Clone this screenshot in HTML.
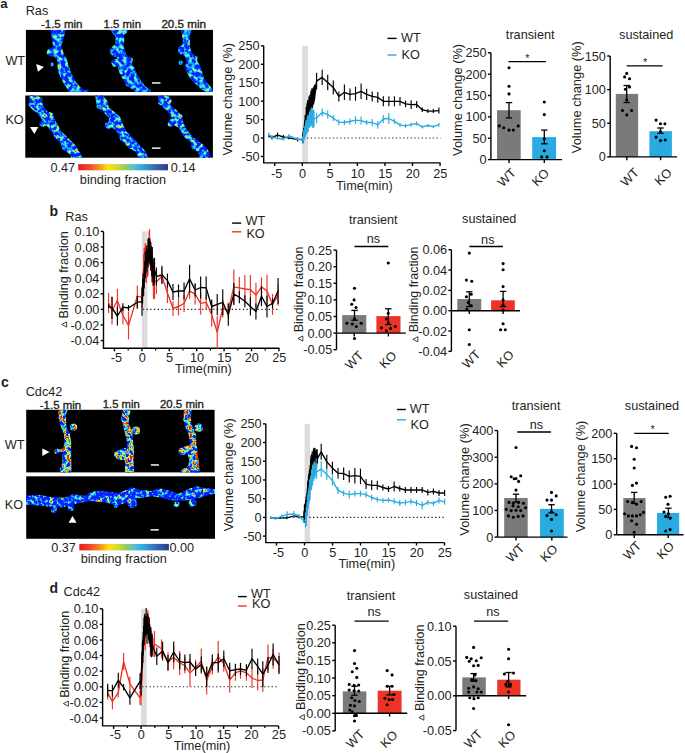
<!DOCTYPE html><html><head><meta charset="utf-8"><style>html,body{margin:0;padding:0;background:#fff;width:685px;height:753px;overflow:hidden}svg{display:block}text{font-family:"Liberation Sans",sans-serif}</style></head><body><svg width="685" height="753" viewBox="0 0 685 753" font-family="Liberation Sans, sans-serif" fill="#231f20">
<defs><filter id="soft" x="-5%" y="-5%" width="110%" height="110%"><feGaussianBlur stdDeviation="0.7"/></filter><linearGradient id="jet" x1="0" x2="1" y1="0" y2="0"><stop offset="0" stop-color="#ec1c24"/><stop offset="0.12" stop-color="#f0452a"/><stop offset="0.24" stop-color="#f7941d"/><stop offset="0.33" stop-color="#fde312"/><stop offset="0.43" stop-color="#cfdc2a"/><stop offset="0.52" stop-color="#96cb5a"/><stop offset="0.61" stop-color="#5cc3c8"/><stop offset="0.70" stop-color="#2eaee3"/><stop offset="0.82" stop-color="#3a78bd"/><stop offset="1" stop-color="#2b3990"/></linearGradient><filter id="nras" filterUnits="objectBoundingBox" x="0" y="0" width="1" height="1" color-interpolation-filters="sRGB"><feTurbulence type="fractalNoise" baseFrequency="0.26" numOctaves="2" seed="3"/><feColorMatrix type="matrix" values="1 0 0 0 0  1 0 0 0 0  1 0 0 0 0  0 0 0 0 1"/><feComponentTransfer><feFuncR type="table" tableValues="0.04 0.04 0.04 0.04 0.04 0.04 0.04 0.04 0.04 0.04 0.04 0.04 0.04 0.04 0.04 0.04 0.04 0.04 0.04 0.04 0.04 0.05 0.07 0.08 0.10 0.18 0.27 0.35 0.43 0.54 0.71 0.89 1.00 1.00 1.00 1.00 1.00 1.00 1.00 1.00 1.00"/><feFuncG type="table" tableValues="0.12 0.12 0.12 0.12 0.12 0.12 0.12 0.12 0.12 0.12 0.12 0.12 0.12 0.12 0.12 0.12 0.12 0.12 0.23 0.36 0.50 0.60 0.69 0.77 0.86 0.89 0.92 0.95 0.98 0.99 0.97 0.95 0.88 0.74 0.60 0.55 0.55 0.55 0.55 0.55 0.55"/><feFuncB type="table" tableValues="1.00 1.00 1.00 1.00 1.00 1.00 1.00 1.00 1.00 1.00 1.00 1.00 1.00 1.00 1.00 1.00 1.00 1.00 1.00 1.00 1.00 1.00 1.00 1.00 1.00 0.92 0.83 0.75 0.67 0.56 0.39 0.21 0.09 0.08 0.06 0.05 0.05 0.05 0.05 0.05 0.05"/></feComponentTransfer></filter><filter id="nrasko" filterUnits="objectBoundingBox" x="0" y="0" width="1" height="1" color-interpolation-filters="sRGB"><feTurbulence type="fractalNoise" baseFrequency="0.28" numOctaves="2" seed="5"/><feColorMatrix type="matrix" values="1 0 0 0 0  1 0 0 0 0  1 0 0 0 0  0 0 0 0 1"/><feComponentTransfer><feFuncR type="table" tableValues="0.04 0.04 0.04 0.04 0.04 0.04 0.04 0.04 0.04 0.04 0.04 0.04 0.04 0.04 0.04 0.04 0.04 0.04 0.04 0.04 0.04 0.05 0.07 0.08 0.10 0.23 0.35 0.47 0.67 0.87 1.00 1.00 0.99 0.96 0.93 0.93 0.93 0.93 0.93 0.93 0.93"/><feFuncG type="table" tableValues="0.12 0.12 0.12 0.12 0.12 0.12 0.12 0.12 0.12 0.12 0.12 0.12 0.12 0.12 0.12 0.12 0.12 0.12 0.18 0.33 0.49 0.60 0.69 0.77 0.86 0.90 0.95 0.99 0.98 0.95 0.85 0.66 0.48 0.31 0.13 0.13 0.13 0.13 0.13 0.13 0.13"/><feFuncB type="table" tableValues="1.00 1.00 1.00 1.00 1.00 1.00 1.00 1.00 1.00 1.00 1.00 1.00 1.00 1.00 1.00 1.00 1.00 1.00 1.00 1.00 1.00 1.00 1.00 1.00 1.00 0.88 0.75 0.62 0.43 0.23 0.09 0.07 0.05 0.05 0.05 0.05 0.05 0.05 0.05 0.05 0.05"/></feComponentTransfer></filter><filter id="ncdc" filterUnits="objectBoundingBox" x="0" y="0" width="1" height="1" color-interpolation-filters="sRGB"><feTurbulence type="fractalNoise" baseFrequency="0.27" numOctaves="2" seed="7"/><feColorMatrix type="matrix" values="1 0 0 0 0  1 0 0 0 0  1 0 0 0 0  0 0 0 0 1"/><feComponentTransfer><feFuncR type="table" tableValues="0.04 0.04 0.04 0.04 0.04 0.04 0.04 0.04 0.04 0.04 0.04 0.04 0.04 0.04 0.04 0.04 0.04 0.04 0.04 0.08 0.20 0.45 0.75 1.00 1.00 0.99 0.96 0.93 0.93 0.93 0.93 0.93 0.93 0.93 0.93 0.93 0.93 0.93 0.93 0.93 0.93"/><feFuncG type="table" tableValues="0.12 0.12 0.12 0.12 0.12 0.12 0.12 0.12 0.12 0.12 0.12 0.12 0.12 0.12 0.12 0.12 0.19 0.37 0.55 0.74 0.90 0.98 0.96 0.89 0.70 0.51 0.30 0.13 0.13 0.13 0.13 0.13 0.13 0.13 0.13 0.13 0.13 0.13 0.13 0.13 0.13"/><feFuncB type="table" tableValues="1.00 1.00 1.00 1.00 1.00 1.00 1.00 1.00 1.00 1.00 1.00 1.00 1.00 1.00 1.00 1.00 1.00 1.00 1.00 1.00 0.90 0.65 0.35 0.10 0.07 0.05 0.05 0.05 0.05 0.05 0.05 0.05 0.05 0.05 0.05 0.05 0.05 0.05 0.05 0.05 0.05"/></feComponentTransfer></filter><filter id="ncdcko" filterUnits="objectBoundingBox" x="0" y="0" width="1" height="1" color-interpolation-filters="sRGB"><feTurbulence type="fractalNoise" baseFrequency="0.28" numOctaves="2" seed="9"/><feColorMatrix type="matrix" values="1 0 0 0 0  1 0 0 0 0  1 0 0 0 0  0 0 0 0 1"/><feComponentTransfer><feFuncR type="table" tableValues="0.04 0.04 0.04 0.04 0.04 0.04 0.04 0.04 0.04 0.04 0.04 0.04 0.04 0.04 0.04 0.04 0.04 0.04 0.04 0.04 0.04 0.04 0.04 0.06 0.08 0.13 0.30 0.47 0.70 0.95 1.00 0.99 0.95 0.93 0.93 0.93 0.93 0.93 0.93 0.93 0.93"/><feFuncG type="table" tableValues="0.12 0.12 0.12 0.12 0.12 0.12 0.12 0.12 0.12 0.12 0.12 0.12 0.12 0.12 0.12 0.12 0.12 0.12 0.12 0.12 0.24 0.40 0.55 0.66 0.77 0.87 0.93 0.99 0.97 0.94 0.74 0.50 0.23 0.13 0.13 0.13 0.13 0.13 0.13 0.13 0.13"/><feFuncB type="table" tableValues="1.00 1.00 1.00 1.00 1.00 1.00 1.00 1.00 1.00 1.00 1.00 1.00 1.00 1.00 1.00 1.00 1.00 1.00 1.00 1.00 1.00 1.00 1.00 1.00 1.00 0.97 0.80 0.63 0.40 0.15 0.08 0.05 0.05 0.05 0.05 0.05 0.05 0.05 0.05 0.05 0.05"/></feComponentTransfer></filter></defs>
<rect x="0" y="0" width="685" height="753" fill="#ffffff"/>
<text x="0.3" y="8.2" font-size="13.2" font-weight="bold">a</text>
<text x="49.5" y="215.7" font-size="14" font-weight="bold">b</text>
<text x="1" y="386.7" font-size="14" font-weight="bold">c</text>
<text x="49.5" y="592.8" font-size="14" font-weight="bold">d</text>
<text x="25.7" y="14.6" font-size="12.7">Ras</text>
<text x="40.9" y="28.2" font-size="11" textLength="41.6" lengthAdjust="spacingAndGlyphs" stroke="#231f20" stroke-width="0.35">-1.5 min</text>
<text x="103.6" y="28.2" font-size="11" textLength="37.4" lengthAdjust="spacingAndGlyphs" stroke="#231f20" stroke-width="0.35">1.5 min</text>
<text x="161.4" y="28.2" font-size="11" textLength="44.6" lengthAdjust="spacingAndGlyphs" stroke="#231f20" stroke-width="0.35">20.5 min</text>
<text x="5.4" y="64.5" font-size="12.7">WT</text>
<text x="5.4" y="124.3" font-size="12.7">KO</text>
<rect x="25.9" y="29.9" width="187.1" height="62.1" fill="#000"/>
<rect x="25.3" y="95.5" width="187.6" height="62.2" fill="#000"/>
<clipPath id="cl1"><polygon points="50.6,29.9 52.5,42.2 53,47 47.5,49.8 46.5,53.6 49,56 54,56.5 57,59.3 57.5,66 58,71.6 61,78.3 64,84 68,89.7 68.5,92 88,92 84,89.7 80,86.8 76,82 73,76.4 70,69.7 68,64 67,59.3 64,54.6 62.5,49.8 61.5,46 63,40.3 65.8,29.9"/><circle cx="51.8" cy="64.5" r="2"/></clipPath>
<g filter="url(#soft)"><g clip-path="url(#cl1)">
<rect x="44" y="29.9" width="46" height="62.1" fill="#000" filter="url(#nras)"/>
</g></g>
<clipPath id="cl2"><polygon points="110.1,29.9 115.4,36.5 115.4,44.1 110.6,47.9 110.1,52.7 112.5,56.2 115.5,57.2 118.6,58.2 114.5,59.6 111.8,60.6 111.1,63.1 113.5,66.9 117.7,66 119.2,72.6 123,79.2 126.7,85.9 134.3,90.6 135,92 150.5,92 149.5,89.7 145.7,86.8 141.9,82.1 137.7,75.4 135.3,69.7 132,64 132.9,58.4 126.7,55.5 123.9,47 124.4,35.6 128.6,29.9"/></clipPath>
<g filter="url(#soft)"><g clip-path="url(#cl2)">
<rect x="108" y="29.9" width="43" height="62.1" fill="#000" filter="url(#nras)"/>
</g></g>
<clipPath id="cl3"><polygon points="181.2,29.9 182.7,39.6 182.2,44.9 178.8,46.8 177.4,50.6 179.3,54 184.6,55.5 186.5,60.8 185.1,66.5 186.1,71.4 189.4,77.1 194.2,82.9 202,89.7 205.8,92 213,92 212.5,88.7 208.7,84.8 203.9,78.1 202,71.4 200,65.6 197.1,60.8 197.6,56.9 192.3,54 189.9,47.3 189.9,37.6 191.4,29.9"/><circle cx="180.8" cy="62.7" r="2.2"/></clipPath>
<g filter="url(#soft)"><g clip-path="url(#cl3)">
<rect x="176" y="29.9" width="37" height="62.1" fill="#000" filter="url(#nras)"/>
</g></g>
<rect x="86" y="89.5" width="2.5" height="2.5" fill="#0a2cff"/>
<rect x="148.5" y="89.5" width="2.5" height="2.5" fill="#0a2cff"/>
<polygon points="36.2,64.1 37.9,71.8 43.9,67.1" fill="#ffffff"/>
<rect x="152" y="82.1" width="8.5" height="1.7" fill="#d8d8d8"/>
<clipPath id="cl4"><polygon points="29.8,95.5 28.6,105.5 31.7,108.9 37.5,113.2 42.3,120 39.9,121.9 39.4,125.8 43.3,126.7 46.6,125.8 52.9,133.5 54.8,138.3 60.6,143.1 62.5,149.8 69.3,153.7 71.2,157.7 82.8,157.7 79.9,151.8 75.1,145 67.4,137.3 61.6,131.5 57.7,124.8 53.9,118 52.9,113.2 47.1,111.3 42.8,104.6 42.3,98.8 37.5,95.5"/></clipPath>
<g filter="url(#soft)"><g clip-path="url(#cl4)">
<rect x="28" y="95.5" width="56" height="62.2" fill="#000" filter="url(#nrasko)"/>
</g></g>
<clipPath id="cl5"><polygon points="95.2,95.5 96.1,102.6 96.6,107.5 102.4,111.3 108.2,117.1 109.1,120.9 105.3,122.9 104.8,126.7 107.7,129.4 111.5,127.7 114.9,129.6 118.8,134.4 120.2,140.2 124.5,143.1 128.4,147.9 136.1,151.8 138,157.7 147.7,157.7 145.7,151.8 140.9,146 133.2,138.3 126.5,131.5 122.6,123.8 120.2,117.1 114.9,112.3 108.6,107.5 108.2,101.7 102.9,95.5"/></clipPath>
<g filter="url(#soft)"><g clip-path="url(#cl5)">
<rect x="94" y="95.5" width="55" height="62.2" fill="#000" filter="url(#nrasko)"/>
</g></g>
<clipPath id="cl6"><polygon points="158.6,95.5 158.1,103.6 162.5,107 167.3,111.3 172.1,118 168.7,120.9 167.3,124.8 170.2,127.2 174,125.3 178.8,127.7 182.7,135.4 186.5,139.2 190.4,141.2 191.4,147.9 196.2,150.8 199.1,154.7 199.1,157.7 210.6,157.7 209.7,152.7 205.8,147 200,142.1 192.3,136.4 186.5,129.6 183.2,121.9 182.2,115.2 177.9,111.3 171.1,105.5 171.6,99.7 167.7,95.5"/></clipPath>
<g filter="url(#soft)"><g clip-path="url(#cl6)">
<rect x="157" y="95.5" width="55" height="62.2" fill="#000" filter="url(#nrasko)"/>
</g></g>
<polygon points="30,126.9 38.3,126.9 34.3,134.1" fill="#ffffff"/>
<rect x="152" y="147.3" width="8.5" height="1.7" fill="#d8d8d8"/>
<rect x="78.2" y="164.1" width="89.8" height="6.2" fill="url(#jet)"/>
<text x="50.4" y="171.9" font-size="12.7">0.47</text>
<text x="170.8" y="171.9" font-size="12.7">0.14</text>
<text x="79.8" y="183.7" font-size="12.7" textLength="86.4" lengthAdjust="spacingAndGlyphs">binding fraction</text>
<rect x="302.3" y="45.85" width="5.6" height="117.05" fill="#dcdcdc"/>
<line x1="303.3" y1="138" x2="440.6" y2="138" stroke="#222" stroke-width="1.1" stroke-dasharray="1.3,2.4"/>
<path d="M263.7 45.85V162.9H440.6" fill="none" stroke="#000" stroke-width="1.4"/>
<line x1="260.9" y1="45.85" x2="263.7" y2="45.85" stroke="#000" stroke-width="1.4"/>
<text x="259.5" y="50.35" font-size="12.7" text-anchor="end">250</text>
<line x1="260.9" y1="64.28" x2="263.7" y2="64.28" stroke="#000" stroke-width="1.4"/>
<text x="259.5" y="68.78" font-size="12.7" text-anchor="end">200</text>
<line x1="260.9" y1="82.71" x2="263.7" y2="82.71" stroke="#000" stroke-width="1.4"/>
<text x="259.5" y="87.21" font-size="12.7" text-anchor="end">150</text>
<line x1="260.9" y1="101.14" x2="263.7" y2="101.14" stroke="#000" stroke-width="1.4"/>
<text x="259.5" y="105.64" font-size="12.7" text-anchor="end">100</text>
<line x1="260.9" y1="119.57" x2="263.7" y2="119.57" stroke="#000" stroke-width="1.4"/>
<text x="259.5" y="124.07" font-size="12.7" text-anchor="end">50</text>
<line x1="260.9" y1="138" x2="263.7" y2="138" stroke="#000" stroke-width="1.4"/>
<text x="259.5" y="142.5" font-size="12.7" text-anchor="end">0</text>
<line x1="260.9" y1="156.43" x2="263.7" y2="156.43" stroke="#000" stroke-width="1.4"/>
<text x="259.5" y="160.93" font-size="12.7" text-anchor="end">-50</text>
<line x1="274.75" y1="162.9" x2="274.75" y2="165.9" stroke="#000" stroke-width="1.4"/>
<text x="276.65" y="177.5" font-size="12.7" text-anchor="middle">-5</text>
<line x1="302.3" y1="162.9" x2="302.3" y2="165.9" stroke="#000" stroke-width="1.4"/>
<text x="302.6" y="177.5" font-size="12.7" text-anchor="middle">0</text>
<line x1="329.85" y1="162.9" x2="329.85" y2="165.9" stroke="#000" stroke-width="1.4"/>
<text x="330.15" y="177.5" font-size="12.7" text-anchor="middle">5</text>
<line x1="357.4" y1="162.9" x2="357.4" y2="165.9" stroke="#000" stroke-width="1.4"/>
<text x="357.7" y="177.5" font-size="12.7" text-anchor="middle">10</text>
<line x1="384.95" y1="162.9" x2="384.95" y2="165.9" stroke="#000" stroke-width="1.4"/>
<text x="385.25" y="177.5" font-size="12.7" text-anchor="middle">15</text>
<line x1="412.5" y1="162.9" x2="412.5" y2="165.9" stroke="#000" stroke-width="1.4"/>
<text x="412.8" y="177.5" font-size="12.7" text-anchor="middle">20</text>
<line x1="440.05" y1="162.9" x2="440.05" y2="165.9" stroke="#000" stroke-width="1.4"/>
<text x="440.35" y="177.5" font-size="12.7" text-anchor="middle">25</text>
<text x="364.4" y="190" font-size="12.7" text-anchor="middle">Time(min)</text>
<text x="232.1" y="99.3" font-size="12.7" text-anchor="middle" transform="rotate(-90 232.1 99.3)" textLength="112.5" lengthAdjust="spacingAndGlyphs">Volume change (%)</text>
<polyline points="268.8,136 272,137.4 277.5,135.2 283.4,137 288.8,137.8 297.6,139.6 302.6,139.12 302.88,137.99 303.15,136.31 303.43,133.06 303.71,133.7 303.98,132.06 304.26,129.5 304.54,128.16 304.81,125.36 305.09,124.48 305.37,124.12 305.64,122.68 305.92,120.73 306.2,117.83 306.47,116.94 306.75,117.41 307.03,114.37 307.3,113.58 307.58,111.4 307.86,111.18 308.13,110.48 308.41,108.24 308.69,106.75 308.96,106.16 309.24,104.47 309.51,104.31 309.79,104.49 310.07,102.42 310.34,102.8 310.62,102.9 310.9,101.8 311.17,99.49 311.45,99.78 311.73,98.37 312,98.23 312.28,97.71 312.56,98.92 312.83,96.96 313.11,96.84 313.39,95.28 313.66,96.39 313.94,94.01 314.22,93.15 314.49,93.29 314.77,91.54 315.05,90.92 315.32,89.27 315.6,87.99 316.6,81.1 322.16,77.4 327.72,82.5 333.28,87.4 338.84,96.4 344.4,92.3 349.96,94.4 355.52,93.7 361.08,91.3 366.64,94.4 372.2,96.4 377.76,97.4 383.32,101.3 388.88,101.3 394.44,101.3 400,101.3 405.56,103.9 411.12,104.7 416.68,104.5 422.24,109.7 427.8,111.1 433.36,111.1 438.92,110.6" fill="none" stroke="#000" stroke-width="1.35" stroke-linejoin="round"/>
<line x1="268.8" y1="134.5" x2="268.8" y2="137.5" stroke="#000" stroke-width="1.15"/>
<line x1="272" y1="135.4" x2="272" y2="139.4" stroke="#000" stroke-width="1.15"/>
<line x1="277.5" y1="132.7" x2="277.5" y2="137.7" stroke="#000" stroke-width="1.15"/>
<line x1="283.4" y1="135" x2="283.4" y2="139" stroke="#000" stroke-width="1.15"/>
<line x1="288.8" y1="136.3" x2="288.8" y2="139.3" stroke="#000" stroke-width="1.15"/>
<line x1="297.6" y1="137.6" x2="297.6" y2="141.6" stroke="#000" stroke-width="1.15"/>
<line x1="302.6" y1="135.54" x2="302.6" y2="142.7" stroke="#000" stroke-width="1.15"/>
<line x1="302.88" y1="133.26" x2="302.88" y2="142.71" stroke="#000" stroke-width="1.15"/>
<line x1="303.15" y1="130.94" x2="303.15" y2="141.67" stroke="#000" stroke-width="1.15"/>
<line x1="303.43" y1="128.56" x2="303.43" y2="137.56" stroke="#000" stroke-width="1.15"/>
<line x1="303.71" y1="128" x2="303.71" y2="139.41" stroke="#000" stroke-width="1.15"/>
<line x1="303.98" y1="128" x2="303.98" y2="136.11" stroke="#000" stroke-width="1.15"/>
<line x1="304.26" y1="124.56" x2="304.26" y2="134.43" stroke="#000" stroke-width="1.15"/>
<line x1="304.54" y1="121.34" x2="304.54" y2="134.97" stroke="#000" stroke-width="1.15"/>
<line x1="304.81" y1="119.93" x2="304.81" y2="130.79" stroke="#000" stroke-width="1.15"/>
<line x1="305.09" y1="115" x2="305.09" y2="133.96" stroke="#000" stroke-width="1.15"/>
<line x1="305.37" y1="118.4" x2="305.37" y2="129.85" stroke="#000" stroke-width="1.15"/>
<line x1="305.64" y1="116.78" x2="305.64" y2="128.58" stroke="#000" stroke-width="1.15"/>
<line x1="305.92" y1="114.61" x2="305.92" y2="126.84" stroke="#000" stroke-width="1.15"/>
<line x1="306.2" y1="106.98" x2="306.2" y2="128.68" stroke="#000" stroke-width="1.15"/>
<line x1="306.47" y1="110.24" x2="306.47" y2="123.64" stroke="#000" stroke-width="1.15"/>
<line x1="306.75" y1="106.67" x2="306.75" y2="128.16" stroke="#000" stroke-width="1.15"/>
<line x1="307.03" y1="103.13" x2="307.03" y2="125.61" stroke="#000" stroke-width="1.15"/>
<line x1="307.3" y1="104.15" x2="307.3" y2="123.02" stroke="#000" stroke-width="1.15"/>
<line x1="307.58" y1="100.4" x2="307.58" y2="122.39" stroke="#000" stroke-width="1.15"/>
<line x1="307.86" y1="100.09" x2="307.86" y2="122.28" stroke="#000" stroke-width="1.15"/>
<line x1="308.13" y1="103.49" x2="308.13" y2="117.48" stroke="#000" stroke-width="1.15"/>
<line x1="308.41" y1="102.08" x2="308.41" y2="114.4" stroke="#000" stroke-width="1.15"/>
<line x1="308.69" y1="101.23" x2="308.69" y2="112.27" stroke="#000" stroke-width="1.15"/>
<line x1="308.96" y1="97.46" x2="308.96" y2="114.85" stroke="#000" stroke-width="1.15"/>
<line x1="309.24" y1="95.38" x2="309.24" y2="113.57" stroke="#000" stroke-width="1.15"/>
<line x1="309.51" y1="97.43" x2="309.51" y2="111.18" stroke="#000" stroke-width="1.15"/>
<line x1="309.79" y1="96.66" x2="309.79" y2="112.33" stroke="#000" stroke-width="1.15"/>
<line x1="310.07" y1="94.63" x2="310.07" y2="110.22" stroke="#000" stroke-width="1.15"/>
<line x1="310.34" y1="97.51" x2="310.34" y2="108.1" stroke="#000" stroke-width="1.15"/>
<line x1="310.62" y1="97.83" x2="310.62" y2="107.97" stroke="#000" stroke-width="1.15"/>
<line x1="310.9" y1="92.05" x2="310.9" y2="111.55" stroke="#000" stroke-width="1.15"/>
<line x1="311.17" y1="90.12" x2="311.17" y2="108.86" stroke="#000" stroke-width="1.15"/>
<line x1="311.45" y1="91.65" x2="311.45" y2="107.91" stroke="#000" stroke-width="1.15"/>
<line x1="311.73" y1="93.28" x2="311.73" y2="103.46" stroke="#000" stroke-width="1.15"/>
<line x1="312" y1="88.08" x2="312" y2="108.37" stroke="#000" stroke-width="1.15"/>
<line x1="312.28" y1="88.94" x2="312.28" y2="106.48" stroke="#000" stroke-width="1.15"/>
<line x1="312.56" y1="89.43" x2="312.56" y2="108.41" stroke="#000" stroke-width="1.15"/>
<line x1="312.83" y1="90.76" x2="312.83" y2="103.16" stroke="#000" stroke-width="1.15"/>
<line x1="313.11" y1="88.75" x2="313.11" y2="104.92" stroke="#000" stroke-width="1.15"/>
<line x1="313.39" y1="87.59" x2="313.39" y2="102.98" stroke="#000" stroke-width="1.15"/>
<line x1="313.66" y1="88.44" x2="313.66" y2="104.33" stroke="#000" stroke-width="1.15"/>
<line x1="313.94" y1="85.95" x2="313.94" y2="102.06" stroke="#000" stroke-width="1.15"/>
<line x1="314.22" y1="87.99" x2="314.22" y2="98.31" stroke="#000" stroke-width="1.15"/>
<line x1="314.49" y1="85.93" x2="314.49" y2="100.65" stroke="#000" stroke-width="1.15"/>
<line x1="314.77" y1="84.44" x2="314.77" y2="98.63" stroke="#000" stroke-width="1.15"/>
<line x1="315.05" y1="86.45" x2="315.05" y2="95.39" stroke="#000" stroke-width="1.15"/>
<line x1="315.32" y1="85.48" x2="315.32" y2="93.05" stroke="#000" stroke-width="1.15"/>
<line x1="315.6" y1="84.47" x2="315.6" y2="91.51" stroke="#000" stroke-width="1.15"/>
<line x1="316.6" y1="72.8" x2="316.6" y2="89.4" stroke="#000" stroke-width="1.15"/>
<line x1="322.16" y1="69.8" x2="322.16" y2="85" stroke="#000" stroke-width="1.15"/>
<line x1="327.72" y1="74.8" x2="327.72" y2="90.2" stroke="#000" stroke-width="1.15"/>
<line x1="333.28" y1="80.4" x2="333.28" y2="94.4" stroke="#000" stroke-width="1.15"/>
<line x1="338.84" y1="91.4" x2="338.84" y2="101.4" stroke="#000" stroke-width="1.15"/>
<line x1="344.4" y1="84.6" x2="344.4" y2="100" stroke="#000" stroke-width="1.15"/>
<line x1="349.96" y1="88.4" x2="349.96" y2="100.4" stroke="#000" stroke-width="1.15"/>
<line x1="355.52" y1="86.7" x2="355.52" y2="100.7" stroke="#000" stroke-width="1.15"/>
<line x1="361.08" y1="83.6" x2="361.08" y2="99" stroke="#000" stroke-width="1.15"/>
<line x1="366.64" y1="88.8" x2="366.64" y2="100" stroke="#000" stroke-width="1.15"/>
<line x1="372.2" y1="91.4" x2="372.2" y2="101.4" stroke="#000" stroke-width="1.15"/>
<line x1="377.76" y1="92.1" x2="377.76" y2="102.7" stroke="#000" stroke-width="1.15"/>
<line x1="383.32" y1="96.3" x2="383.32" y2="106.3" stroke="#000" stroke-width="1.15"/>
<line x1="388.88" y1="96.3" x2="388.88" y2="106.3" stroke="#000" stroke-width="1.15"/>
<line x1="394.44" y1="96.3" x2="394.44" y2="106.3" stroke="#000" stroke-width="1.15"/>
<line x1="400" y1="96.9" x2="400" y2="105.7" stroke="#000" stroke-width="1.15"/>
<line x1="405.56" y1="100.6" x2="405.56" y2="107.2" stroke="#000" stroke-width="1.15"/>
<line x1="411.12" y1="100.3" x2="411.12" y2="109.1" stroke="#000" stroke-width="1.15"/>
<line x1="416.68" y1="101" x2="416.68" y2="108" stroke="#000" stroke-width="1.15"/>
<line x1="422.24" y1="107.4" x2="422.24" y2="112" stroke="#000" stroke-width="1.15"/>
<line x1="427.8" y1="109.1" x2="427.8" y2="113.1" stroke="#000" stroke-width="1.15"/>
<line x1="433.36" y1="109.1" x2="433.36" y2="113.1" stroke="#000" stroke-width="1.15"/>
<line x1="438.92" y1="107.6" x2="438.92" y2="113.6" stroke="#000" stroke-width="1.15"/>
<polyline points="268.8,134.5 272,137 277.5,138.3 283.4,139 289,136 297,139 302.8,140.39 303.06,138.74 303.32,136.74 303.57,136.64 303.83,135.42 304.09,134.23 304.35,134.24 304.61,132.95 304.87,131.36 305.12,131.68 305.38,130.77 305.64,129.95 305.9,127.54 306.16,128.22 306.41,126.15 306.67,126.59 306.93,126.58 307.19,124.43 307.45,124.1 307.7,124.56 307.96,123.38 308.22,123.17 308.48,121.1 308.74,121.73 309,121.19 309.25,121.25 309.51,119.21 309.77,119.09 310.03,118.94 310.29,118.13 310.54,118.85 310.8,118.75 311.06,117.61 311.32,117.92 311.58,117.18 311.83,116.42 312.09,116.21 312.35,117.88 312.61,118.64 312.87,118.92 313.13,118.59 313.38,118.43 313.64,119.42 313.9,118.94 316.6,118 322.16,112.5 327.72,114.6 333.28,118 338.84,122.2 344.4,122.5 349.96,121.5 355.52,120.1 361.08,120.6 366.64,122.5 372.2,122.5 377.76,124.9 383.32,119 388.88,118.5 394.44,121.4 400,124.9 405.56,125.8 411.12,124.7 416.68,123.5 422.24,126.9 427.8,125.5 433.36,126.7 438.92,124.7" fill="none" stroke="#29abe2" stroke-width="1.35" stroke-linejoin="round"/>
<line x1="268.8" y1="132.5" x2="268.8" y2="136.5" stroke="#29abe2" stroke-width="1.15"/>
<line x1="272" y1="135.5" x2="272" y2="138.5" stroke="#29abe2" stroke-width="1.15"/>
<line x1="277.5" y1="136.8" x2="277.5" y2="139.8" stroke="#29abe2" stroke-width="1.15"/>
<line x1="283.4" y1="137.5" x2="283.4" y2="140.5" stroke="#29abe2" stroke-width="1.15"/>
<line x1="289" y1="134" x2="289" y2="138" stroke="#29abe2" stroke-width="1.15"/>
<line x1="297" y1="137.5" x2="297" y2="140.5" stroke="#29abe2" stroke-width="1.15"/>
<line x1="302.8" y1="136.86" x2="302.8" y2="143.91" stroke="#29abe2" stroke-width="1.15"/>
<line x1="303.06" y1="136.14" x2="303.06" y2="141.34" stroke="#29abe2" stroke-width="1.15"/>
<line x1="303.32" y1="132.86" x2="303.32" y2="140.61" stroke="#29abe2" stroke-width="1.15"/>
<line x1="303.57" y1="132.15" x2="303.57" y2="141.13" stroke="#29abe2" stroke-width="1.15"/>
<line x1="303.83" y1="130.53" x2="303.83" y2="140.3" stroke="#29abe2" stroke-width="1.15"/>
<line x1="304.09" y1="128.9" x2="304.09" y2="139.56" stroke="#29abe2" stroke-width="1.15"/>
<line x1="304.35" y1="129.92" x2="304.35" y2="138.55" stroke="#29abe2" stroke-width="1.15"/>
<line x1="304.61" y1="127.45" x2="304.61" y2="138.45" stroke="#29abe2" stroke-width="1.15"/>
<line x1="304.87" y1="126.06" x2="304.87" y2="136.66" stroke="#29abe2" stroke-width="1.15"/>
<line x1="305.12" y1="127.26" x2="305.12" y2="136.1" stroke="#29abe2" stroke-width="1.15"/>
<line x1="305.38" y1="124.42" x2="305.38" y2="137.12" stroke="#29abe2" stroke-width="1.15"/>
<line x1="305.64" y1="124.82" x2="305.64" y2="135.08" stroke="#29abe2" stroke-width="1.15"/>
<line x1="305.9" y1="120.12" x2="305.9" y2="134.97" stroke="#29abe2" stroke-width="1.15"/>
<line x1="306.16" y1="122.28" x2="306.16" y2="134.16" stroke="#29abe2" stroke-width="1.15"/>
<line x1="306.41" y1="121.32" x2="306.41" y2="130.99" stroke="#29abe2" stroke-width="1.15"/>
<line x1="306.67" y1="121.3" x2="306.67" y2="131.88" stroke="#29abe2" stroke-width="1.15"/>
<line x1="306.93" y1="119.88" x2="306.93" y2="133.27" stroke="#29abe2" stroke-width="1.15"/>
<line x1="307.19" y1="117.39" x2="307.19" y2="131.47" stroke="#29abe2" stroke-width="1.15"/>
<line x1="307.45" y1="115.73" x2="307.45" y2="132.47" stroke="#29abe2" stroke-width="1.15"/>
<line x1="307.7" y1="118.11" x2="307.7" y2="131" stroke="#29abe2" stroke-width="1.15"/>
<line x1="307.96" y1="116.04" x2="307.96" y2="130.72" stroke="#29abe2" stroke-width="1.15"/>
<line x1="308.22" y1="114.47" x2="308.22" y2="131.87" stroke="#29abe2" stroke-width="1.15"/>
<line x1="308.48" y1="115.29" x2="308.48" y2="126.91" stroke="#29abe2" stroke-width="1.15"/>
<line x1="308.74" y1="116.17" x2="308.74" y2="127.29" stroke="#29abe2" stroke-width="1.15"/>
<line x1="309" y1="116.63" x2="309" y2="125.74" stroke="#29abe2" stroke-width="1.15"/>
<line x1="309.25" y1="114.57" x2="309.25" y2="127.94" stroke="#29abe2" stroke-width="1.15"/>
<line x1="309.51" y1="111.83" x2="309.51" y2="126.59" stroke="#29abe2" stroke-width="1.15"/>
<line x1="309.77" y1="113.94" x2="309.77" y2="124.23" stroke="#29abe2" stroke-width="1.15"/>
<line x1="310.03" y1="114.06" x2="310.03" y2="123.82" stroke="#29abe2" stroke-width="1.15"/>
<line x1="310.29" y1="109.65" x2="310.29" y2="126.62" stroke="#29abe2" stroke-width="1.15"/>
<line x1="310.54" y1="114.55" x2="310.54" y2="123.16" stroke="#29abe2" stroke-width="1.15"/>
<line x1="310.8" y1="114.41" x2="310.8" y2="123.1" stroke="#29abe2" stroke-width="1.15"/>
<line x1="311.06" y1="108.81" x2="311.06" y2="126.4" stroke="#29abe2" stroke-width="1.15"/>
<line x1="311.32" y1="112.08" x2="311.32" y2="123.76" stroke="#29abe2" stroke-width="1.15"/>
<line x1="311.58" y1="110.89" x2="311.58" y2="123.46" stroke="#29abe2" stroke-width="1.15"/>
<line x1="311.83" y1="107.01" x2="311.83" y2="125.82" stroke="#29abe2" stroke-width="1.15"/>
<line x1="312.09" y1="109.7" x2="312.09" y2="122.72" stroke="#29abe2" stroke-width="1.15"/>
<line x1="312.35" y1="111.47" x2="312.35" y2="124.3" stroke="#29abe2" stroke-width="1.15"/>
<line x1="312.61" y1="112.98" x2="312.61" y2="124.3" stroke="#29abe2" stroke-width="1.15"/>
<line x1="312.87" y1="109.9" x2="312.87" y2="127.94" stroke="#29abe2" stroke-width="1.15"/>
<line x1="313.13" y1="109.54" x2="313.13" y2="127.64" stroke="#29abe2" stroke-width="1.15"/>
<line x1="313.38" y1="109.65" x2="313.38" y2="127.22" stroke="#29abe2" stroke-width="1.15"/>
<line x1="313.64" y1="112.24" x2="313.64" y2="126.6" stroke="#29abe2" stroke-width="1.15"/>
<line x1="313.9" y1="110.74" x2="313.9" y2="127.15" stroke="#29abe2" stroke-width="1.15"/>
<line x1="316.6" y1="112.8" x2="316.6" y2="123.2" stroke="#29abe2" stroke-width="1.15"/>
<line x1="322.16" y1="108.5" x2="322.16" y2="116.5" stroke="#29abe2" stroke-width="1.15"/>
<line x1="327.72" y1="110.6" x2="327.72" y2="118.6" stroke="#29abe2" stroke-width="1.15"/>
<line x1="333.28" y1="115" x2="333.28" y2="121" stroke="#29abe2" stroke-width="1.15"/>
<line x1="338.84" y1="119.2" x2="338.84" y2="125.2" stroke="#29abe2" stroke-width="1.15"/>
<line x1="344.4" y1="120" x2="344.4" y2="125" stroke="#29abe2" stroke-width="1.15"/>
<line x1="349.96" y1="118.5" x2="349.96" y2="124.5" stroke="#29abe2" stroke-width="1.15"/>
<line x1="355.52" y1="116.1" x2="355.52" y2="124.1" stroke="#29abe2" stroke-width="1.15"/>
<line x1="361.08" y1="116.6" x2="361.08" y2="124.6" stroke="#29abe2" stroke-width="1.15"/>
<line x1="366.64" y1="120" x2="366.64" y2="125" stroke="#29abe2" stroke-width="1.15"/>
<line x1="372.2" y1="119" x2="372.2" y2="126" stroke="#29abe2" stroke-width="1.15"/>
<line x1="377.76" y1="121.1" x2="377.76" y2="128.7" stroke="#29abe2" stroke-width="1.15"/>
<line x1="383.32" y1="115" x2="383.32" y2="123" stroke="#29abe2" stroke-width="1.15"/>
<line x1="388.88" y1="113" x2="388.88" y2="124" stroke="#29abe2" stroke-width="1.15"/>
<line x1="394.44" y1="118.7" x2="394.44" y2="124.1" stroke="#29abe2" stroke-width="1.15"/>
<line x1="400" y1="122.9" x2="400" y2="126.9" stroke="#29abe2" stroke-width="1.15"/>
<line x1="405.56" y1="123.8" x2="405.56" y2="127.8" stroke="#29abe2" stroke-width="1.15"/>
<line x1="411.12" y1="122.7" x2="411.12" y2="126.7" stroke="#29abe2" stroke-width="1.15"/>
<line x1="416.68" y1="121.5" x2="416.68" y2="125.5" stroke="#29abe2" stroke-width="1.15"/>
<line x1="422.24" y1="125.4" x2="422.24" y2="128.4" stroke="#29abe2" stroke-width="1.15"/>
<line x1="427.8" y1="124" x2="427.8" y2="127" stroke="#29abe2" stroke-width="1.15"/>
<line x1="433.36" y1="125.2" x2="433.36" y2="128.2" stroke="#29abe2" stroke-width="1.15"/>
<line x1="438.92" y1="122.7" x2="438.92" y2="126.7" stroke="#29abe2" stroke-width="1.15"/>
<line x1="387.5" y1="38.4" x2="396.6" y2="38.4" stroke="#000" stroke-width="1.4"/>
<text x="401" y="42.4" font-size="12.7">WT</text>
<line x1="387.5" y1="55" x2="396.6" y2="55" stroke="#29abe2" stroke-width="1.4"/>
<text x="401.6" y="58.9" font-size="12.7">KO</text>
<rect x="497" y="110.2" width="23.7" height="49.4" fill="#7a7a7a"/>
<rect x="532.2" y="137.1" width="23.9" height="22.5" fill="#29abe2"/>
<circle cx="509" cy="67.7" r="1.55" fill="#000"/>
<circle cx="509" cy="86.2" r="1.55" fill="#000"/>
<circle cx="509" cy="93.9" r="1.55" fill="#000"/>
<circle cx="499.3" cy="125.9" r="1.55" fill="#000"/>
<circle cx="503.7" cy="127.7" r="1.55" fill="#000"/>
<circle cx="509" cy="130.1" r="1.55" fill="#000"/>
<circle cx="513.3" cy="130.1" r="1.55" fill="#000"/>
<circle cx="518.2" cy="125.9" r="1.55" fill="#000"/>
<circle cx="544.3" cy="102" r="1.55" fill="#000"/>
<circle cx="544.3" cy="114.6" r="1.55" fill="#000"/>
<circle cx="544.3" cy="138.9" r="1.55" fill="#000"/>
<circle cx="544.3" cy="150.8" r="1.55" fill="#000"/>
<circle cx="541.7" cy="156.9" r="1.55" fill="#000"/>
<circle cx="547" cy="156.9" r="1.55" fill="#000"/>
<line x1="509" y1="102.6" x2="509" y2="117.9" stroke="#000" stroke-width="1.3"/>
<line x1="505.8" y1="102.6" x2="512.2" y2="102.6" stroke="#000" stroke-width="1.3"/>
<line x1="505.8" y1="117.9" x2="512.2" y2="117.9" stroke="#000" stroke-width="1.3"/>
<line x1="544.3" y1="130.1" x2="544.3" y2="143.8" stroke="#000" stroke-width="1.3"/>
<line x1="541.1" y1="130.1" x2="547.5" y2="130.1" stroke="#000" stroke-width="1.3"/>
<line x1="541.1" y1="143.8" x2="547.5" y2="143.8" stroke="#000" stroke-width="1.3"/>
<path d="M490.9 52.8V159.6" fill="none" stroke="#000" stroke-width="1.4"/>
<line x1="490.9" y1="159.6" x2="562" y2="159.6" stroke="#000" stroke-width="1.4"/>
<line x1="487.9" y1="52.8" x2="490.9" y2="52.8" stroke="#000" stroke-width="1.4"/>
<text x="486.6" y="57.3" font-size="12.7" text-anchor="end">250</text>
<line x1="487.9" y1="74.16" x2="490.9" y2="74.16" stroke="#000" stroke-width="1.4"/>
<text x="486.6" y="78.66" font-size="12.7" text-anchor="end">200</text>
<line x1="487.9" y1="95.52" x2="490.9" y2="95.52" stroke="#000" stroke-width="1.4"/>
<text x="486.6" y="100.02" font-size="12.7" text-anchor="end">150</text>
<line x1="487.9" y1="116.88" x2="490.9" y2="116.88" stroke="#000" stroke-width="1.4"/>
<text x="486.6" y="121.38" font-size="12.7" text-anchor="end">100</text>
<line x1="487.9" y1="138.24" x2="490.9" y2="138.24" stroke="#000" stroke-width="1.4"/>
<text x="486.6" y="142.74" font-size="12.7" text-anchor="end">50</text>
<line x1="487.9" y1="159.6" x2="490.9" y2="159.6" stroke="#000" stroke-width="1.4"/>
<text x="486.6" y="164.1" font-size="12.7" text-anchor="end">0</text>
<line x1="509" y1="159.6" x2="509" y2="162.9" stroke="#000" stroke-width="1.4"/>
<text x="516.8" y="173.6" font-size="12.7" text-anchor="end" transform="rotate(-45 516.8 173.6)">WT</text>
<line x1="544.3" y1="159.6" x2="544.3" y2="162.9" stroke="#000" stroke-width="1.4"/>
<text x="550.1" y="174.1" font-size="12.7" text-anchor="end" transform="rotate(-45 550.1 174.1)">KO</text>
<text x="530.2" y="39.2" font-size="12.7" text-anchor="middle">transient</text>
<line x1="508.4" y1="61.7" x2="546.1" y2="61.7" stroke="#000" stroke-width="1.3"/>
<text x="527.3" y="62.3" font-size="11" text-anchor="middle">*</text>
<text x="461.6" y="99.9" font-size="12.7" text-anchor="middle" transform="rotate(-90 461.6 99.9)" textLength="112" lengthAdjust="spacingAndGlyphs">Volume change (%)</text>
<rect x="615.8" y="93.9" width="22.3" height="63" fill="#7a7a7a"/>
<rect x="649.4" y="131.2" width="22.5" height="25.7" fill="#29abe2"/>
<circle cx="626.7" cy="73.4" r="1.55" fill="#000"/>
<circle cx="624.6" cy="76.9" r="1.55" fill="#000"/>
<circle cx="629.5" cy="78.7" r="1.55" fill="#000"/>
<circle cx="629.5" cy="86.9" r="1.55" fill="#000"/>
<circle cx="625.4" cy="89.2" r="1.55" fill="#000"/>
<circle cx="626.7" cy="99.7" r="1.55" fill="#000"/>
<circle cx="622.5" cy="110.5" r="1.55" fill="#000"/>
<circle cx="631.6" cy="110.5" r="1.55" fill="#000"/>
<circle cx="626.8" cy="114.9" r="1.55" fill="#000"/>
<circle cx="656.1" cy="120.1" r="1.55" fill="#000"/>
<circle cx="660.5" cy="123.7" r="1.55" fill="#000"/>
<circle cx="664.9" cy="123.7" r="1.55" fill="#000"/>
<circle cx="660.5" cy="131.5" r="1.55" fill="#000"/>
<circle cx="656.1" cy="137.1" r="1.55" fill="#000"/>
<circle cx="660.5" cy="140.6" r="1.55" fill="#000"/>
<circle cx="665.2" cy="140" r="1.55" fill="#000"/>
<line x1="626.7" y1="85.5" x2="626.7" y2="102.5" stroke="#000" stroke-width="1.3"/>
<line x1="623.5" y1="85.5" x2="629.9" y2="85.5" stroke="#000" stroke-width="1.3"/>
<line x1="623.5" y1="102.5" x2="629.9" y2="102.5" stroke="#000" stroke-width="1.3"/>
<line x1="660.5" y1="128" x2="660.5" y2="133.3" stroke="#000" stroke-width="1.3"/>
<line x1="657.3" y1="128" x2="663.7" y2="128" stroke="#000" stroke-width="1.3"/>
<line x1="657.3" y1="133.3" x2="663.7" y2="133.3" stroke="#000" stroke-width="1.3"/>
<path d="M610.2 56V156.9" fill="none" stroke="#000" stroke-width="1.4"/>
<line x1="610.2" y1="156.9" x2="677.1" y2="156.9" stroke="#000" stroke-width="1.4"/>
<line x1="607.2" y1="56" x2="610.2" y2="56" stroke="#000" stroke-width="1.4"/>
<text x="605.9" y="60.5" font-size="12.7" text-anchor="end">150</text>
<line x1="607.2" y1="89.63" x2="610.2" y2="89.63" stroke="#000" stroke-width="1.4"/>
<text x="605.9" y="94.13" font-size="12.7" text-anchor="end">100</text>
<line x1="607.2" y1="123.27" x2="610.2" y2="123.27" stroke="#000" stroke-width="1.4"/>
<text x="605.9" y="127.77" font-size="12.7" text-anchor="end">50</text>
<line x1="607.2" y1="156.9" x2="610.2" y2="156.9" stroke="#000" stroke-width="1.4"/>
<text x="605.9" y="161.4" font-size="12.7" text-anchor="end">0</text>
<line x1="626.8" y1="156.9" x2="626.8" y2="160.2" stroke="#000" stroke-width="1.4"/>
<text x="639.7" y="173.3" font-size="12.7" text-anchor="end" transform="rotate(-45 639.7 173.3)">WT</text>
<line x1="660.6" y1="156.9" x2="660.6" y2="160.2" stroke="#000" stroke-width="1.4"/>
<text x="672.7" y="173.4" font-size="12.7" text-anchor="end" transform="rotate(-45 672.7 173.4)">KO</text>
<text x="646.2" y="39.2" font-size="12.7" text-anchor="middle">sustained</text>
<line x1="626.7" y1="65.9" x2="662.6" y2="65.9" stroke="#000" stroke-width="1.3"/>
<text x="645.2" y="66.1" font-size="11" text-anchor="middle">*</text>
<text x="580.8" y="97.2" font-size="12.7" text-anchor="middle" transform="rotate(-90 580.8 97.2)" textLength="112" lengthAdjust="spacingAndGlyphs">Volume change (%)</text>
<text x="65.3" y="220.5" font-size="12.7">Ras</text>
<rect x="141.9" y="231.4" width="5.6" height="116.9" fill="#dcdcdc"/>
<line x1="142.9" y1="309.4" x2="279.4" y2="309.4" stroke="#222" stroke-width="1.1" stroke-dasharray="1.3,2.4"/>
<path d="M103.5 231.4V348.3H279.4" fill="none" stroke="#000" stroke-width="1.4"/>
<line x1="100.7" y1="231.4" x2="103.5" y2="231.4" stroke="#000" stroke-width="1.4"/>
<text x="99.3" y="235.9" font-size="12.7" text-anchor="end">0.10</text>
<line x1="100.7" y1="247" x2="103.5" y2="247" stroke="#000" stroke-width="1.4"/>
<text x="99.3" y="251.5" font-size="12.7" text-anchor="end">0.08</text>
<line x1="100.7" y1="262.6" x2="103.5" y2="262.6" stroke="#000" stroke-width="1.4"/>
<text x="99.3" y="267.1" font-size="12.7" text-anchor="end">0.06</text>
<line x1="100.7" y1="278.2" x2="103.5" y2="278.2" stroke="#000" stroke-width="1.4"/>
<text x="99.3" y="282.7" font-size="12.7" text-anchor="end">0.04</text>
<line x1="100.7" y1="293.8" x2="103.5" y2="293.8" stroke="#000" stroke-width="1.4"/>
<text x="99.3" y="298.3" font-size="12.7" text-anchor="end">0.02</text>
<line x1="100.7" y1="309.4" x2="103.5" y2="309.4" stroke="#000" stroke-width="1.4"/>
<text x="99.3" y="313.9" font-size="12.7" text-anchor="end">0.00</text>
<line x1="100.7" y1="325" x2="103.5" y2="325" stroke="#000" stroke-width="1.4"/>
<text x="99.3" y="329.5" font-size="12.7" text-anchor="end">-0.02</text>
<line x1="100.7" y1="340.6" x2="103.5" y2="340.6" stroke="#000" stroke-width="1.4"/>
<text x="99.3" y="345.1" font-size="12.7" text-anchor="end">-0.04</text>
<line x1="114.5" y1="348.3" x2="114.5" y2="351.3" stroke="#000" stroke-width="1.4"/>
<text x="116.4" y="361.5" font-size="12.7" text-anchor="middle">-5</text>
<line x1="141.9" y1="348.3" x2="141.9" y2="351.3" stroke="#000" stroke-width="1.4"/>
<text x="142.2" y="361.5" font-size="12.7" text-anchor="middle">0</text>
<line x1="169.3" y1="348.3" x2="169.3" y2="351.3" stroke="#000" stroke-width="1.4"/>
<text x="169.6" y="361.5" font-size="12.7" text-anchor="middle">5</text>
<line x1="196.7" y1="348.3" x2="196.7" y2="351.3" stroke="#000" stroke-width="1.4"/>
<text x="197" y="361.5" font-size="12.7" text-anchor="middle">10</text>
<line x1="224.1" y1="348.3" x2="224.1" y2="351.3" stroke="#000" stroke-width="1.4"/>
<text x="224.4" y="361.5" font-size="12.7" text-anchor="middle">15</text>
<line x1="251.5" y1="348.3" x2="251.5" y2="351.3" stroke="#000" stroke-width="1.4"/>
<text x="251.8" y="361.5" font-size="12.7" text-anchor="middle">20</text>
<line x1="278.9" y1="348.3" x2="278.9" y2="351.3" stroke="#000" stroke-width="1.4"/>
<text x="279.2" y="361.5" font-size="12.7" text-anchor="middle">25</text>
<line x1="128.2" y1="348.3" x2="128.2" y2="350.5" stroke="#000" stroke-width="1.2"/>
<line x1="155.6" y1="348.3" x2="155.6" y2="350.5" stroke="#000" stroke-width="1.2"/>
<line x1="183" y1="348.3" x2="183" y2="350.5" stroke="#000" stroke-width="1.2"/>
<line x1="210.4" y1="348.3" x2="210.4" y2="350.5" stroke="#000" stroke-width="1.2"/>
<line x1="237.8" y1="348.3" x2="237.8" y2="350.5" stroke="#000" stroke-width="1.2"/>
<line x1="265.2" y1="348.3" x2="265.2" y2="350.5" stroke="#000" stroke-width="1.2"/>
<text x="203.4" y="373.3" font-size="12.7" text-anchor="middle">Time(min)</text>
<text x="67.6" y="274.8" font-size="12.7" text-anchor="middle" transform="rotate(-90 67.6 274.8)" textLength="87.4" lengthAdjust="spacingAndGlyphs">Binding fraction</text>
<polygon points="61.7,324.5 66.64,321.9 66.64,327.1" fill="none" stroke="#231f20" stroke-width="0.85"/>
<polyline points="108.6,303 112,310.5 117.4,300.5 122.9,315.5 128.5,325.4 137.3,296.4 142,297.18 142.54,294.26 143.09,284.27 143.63,268.47 144.17,261.21 144.72,257.38 145.26,260.79 145.8,255.98 146.35,264.04 146.89,263.23 147.43,267.88 147.98,263.82 148.52,249.18 149.07,248.67 149.61,244.46 150.15,251.74 150.7,255.72 151.24,253.34 151.78,268.71 152.33,267.64 152.87,274.21 153.41,282.36 153.96,275.73 154.5,280.9 156.4,282 161.93,276 167.46,293 172.99,308.5 178.52,306.5 184.05,303.4 189.58,291 195.11,294.1 200.64,303.4 206.17,302.3 211.7,314.7 217.23,332.2 222.76,308.5 228.29,310.6 233.82,286.9 239.35,287.9 244.88,289 250.41,289.6 255.94,295.1 261.47,286.9 267,291 272.53,304.4 278.06,295.1" fill="none" stroke="#ec3326" stroke-width="1.35" stroke-linejoin="round"/>
<line x1="108.6" y1="293" x2="108.6" y2="313" stroke="#ec3326" stroke-width="1.15"/>
<line x1="112" y1="296.5" x2="112" y2="324.5" stroke="#ec3326" stroke-width="1.15"/>
<line x1="117.4" y1="288.9" x2="117.4" y2="312.1" stroke="#ec3326" stroke-width="1.15"/>
<line x1="122.9" y1="306.8" x2="122.9" y2="324.2" stroke="#ec3326" stroke-width="1.15"/>
<line x1="128.5" y1="311.4" x2="128.5" y2="339.4" stroke="#ec3326" stroke-width="1.15"/>
<line x1="137.3" y1="285.4" x2="137.3" y2="307.4" stroke="#ec3326" stroke-width="1.15"/>
<line x1="142" y1="286.6" x2="142" y2="307.77" stroke="#ec3326" stroke-width="1.15"/>
<line x1="142.54" y1="284.5" x2="142.54" y2="304.02" stroke="#ec3326" stroke-width="1.15"/>
<line x1="143.09" y1="271.43" x2="143.09" y2="297.11" stroke="#ec3326" stroke-width="1.15"/>
<line x1="143.63" y1="254.14" x2="143.63" y2="282.8" stroke="#ec3326" stroke-width="1.15"/>
<line x1="144.17" y1="247.66" x2="144.17" y2="274.76" stroke="#ec3326" stroke-width="1.15"/>
<line x1="144.72" y1="247.43" x2="144.72" y2="267.33" stroke="#ec3326" stroke-width="1.15"/>
<line x1="145.26" y1="243.11" x2="145.26" y2="278.47" stroke="#ec3326" stroke-width="1.15"/>
<line x1="145.8" y1="244.64" x2="145.8" y2="267.32" stroke="#ec3326" stroke-width="1.15"/>
<line x1="146.35" y1="245.09" x2="146.35" y2="282.99" stroke="#ec3326" stroke-width="1.15"/>
<line x1="146.89" y1="250.07" x2="146.89" y2="276.4" stroke="#ec3326" stroke-width="1.15"/>
<line x1="147.43" y1="258.39" x2="147.43" y2="277.37" stroke="#ec3326" stroke-width="1.15"/>
<line x1="147.98" y1="251.78" x2="147.98" y2="275.86" stroke="#ec3326" stroke-width="1.15"/>
<line x1="148.52" y1="238.94" x2="148.52" y2="259.41" stroke="#ec3326" stroke-width="1.15"/>
<line x1="149.07" y1="231.11" x2="149.07" y2="266.24" stroke="#ec3326" stroke-width="1.15"/>
<line x1="149.61" y1="229.35" x2="149.61" y2="259.56" stroke="#ec3326" stroke-width="1.15"/>
<line x1="150.15" y1="238.83" x2="150.15" y2="264.65" stroke="#ec3326" stroke-width="1.15"/>
<line x1="150.7" y1="246.06" x2="150.7" y2="265.38" stroke="#ec3326" stroke-width="1.15"/>
<line x1="151.24" y1="242.18" x2="151.24" y2="264.51" stroke="#ec3326" stroke-width="1.15"/>
<line x1="151.78" y1="255.22" x2="151.78" y2="282.2" stroke="#ec3326" stroke-width="1.15"/>
<line x1="152.33" y1="252.49" x2="152.33" y2="282.78" stroke="#ec3326" stroke-width="1.15"/>
<line x1="152.87" y1="262.06" x2="152.87" y2="286.36" stroke="#ec3326" stroke-width="1.15"/>
<line x1="153.41" y1="266.02" x2="153.41" y2="298.7" stroke="#ec3326" stroke-width="1.15"/>
<line x1="153.96" y1="260.7" x2="153.96" y2="290.76" stroke="#ec3326" stroke-width="1.15"/>
<line x1="154.5" y1="262.71" x2="154.5" y2="299.09" stroke="#ec3326" stroke-width="1.15"/>
<line x1="156.4" y1="270" x2="156.4" y2="294" stroke="#ec3326" stroke-width="1.15"/>
<line x1="161.93" y1="268" x2="161.93" y2="284" stroke="#ec3326" stroke-width="1.15"/>
<line x1="167.46" y1="283" x2="167.46" y2="303" stroke="#ec3326" stroke-width="1.15"/>
<line x1="172.99" y1="301" x2="172.99" y2="316" stroke="#ec3326" stroke-width="1.15"/>
<line x1="178.52" y1="297.5" x2="178.52" y2="315.5" stroke="#ec3326" stroke-width="1.15"/>
<line x1="184.05" y1="294.9" x2="184.05" y2="311.9" stroke="#ec3326" stroke-width="1.15"/>
<line x1="189.58" y1="283" x2="189.58" y2="299" stroke="#ec3326" stroke-width="1.15"/>
<line x1="195.11" y1="283.6" x2="195.11" y2="304.6" stroke="#ec3326" stroke-width="1.15"/>
<line x1="200.64" y1="292.4" x2="200.64" y2="314.4" stroke="#ec3326" stroke-width="1.15"/>
<line x1="206.17" y1="294.8" x2="206.17" y2="309.8" stroke="#ec3326" stroke-width="1.15"/>
<line x1="211.7" y1="302.7" x2="211.7" y2="326.7" stroke="#ec3326" stroke-width="1.15"/>
<line x1="217.23" y1="315.7" x2="217.23" y2="348.7" stroke="#ec3326" stroke-width="1.15"/>
<line x1="222.76" y1="299.5" x2="222.76" y2="317.5" stroke="#ec3326" stroke-width="1.15"/>
<line x1="228.29" y1="302.6" x2="228.29" y2="318.6" stroke="#ec3326" stroke-width="1.15"/>
<line x1="233.82" y1="269.4" x2="233.82" y2="304.4" stroke="#ec3326" stroke-width="1.15"/>
<line x1="239.35" y1="276.9" x2="239.35" y2="298.9" stroke="#ec3326" stroke-width="1.15"/>
<line x1="244.88" y1="275" x2="244.88" y2="303" stroke="#ec3326" stroke-width="1.15"/>
<line x1="250.41" y1="275.1" x2="250.41" y2="304.1" stroke="#ec3326" stroke-width="1.15"/>
<line x1="255.94" y1="283.1" x2="255.94" y2="307.1" stroke="#ec3326" stroke-width="1.15"/>
<line x1="261.47" y1="277.4" x2="261.47" y2="296.4" stroke="#ec3326" stroke-width="1.15"/>
<line x1="267" y1="274.5" x2="267" y2="307.5" stroke="#ec3326" stroke-width="1.15"/>
<line x1="272.53" y1="293.9" x2="272.53" y2="314.9" stroke="#ec3326" stroke-width="1.15"/>
<line x1="278.06" y1="284.6" x2="278.06" y2="305.6" stroke="#ec3326" stroke-width="1.15"/>
<polyline points="108.6,306.3 112,308 117.4,316 122.9,307.2 128.5,308 137.3,302.2 142,301.72 142.54,291.28 143.09,282.15 143.63,287.69 144.17,278.31 144.72,271.7 145.26,264.74 145.8,260.25 146.35,256.85 146.89,259.33 147.43,256.81 147.98,253.19 148.52,249.19 149.07,251.46 149.61,250.45 150.15,252.58 150.7,259.6 151.24,253.14 151.78,266.05 152.33,260.93 152.87,269.9 153.41,276.22 153.96,272.11 154.5,270.29 156.4,276.5 161.93,274.8 167.46,280.6 172.99,292 178.52,291 184.05,291 189.58,278.7 195.11,290 200.64,287.5 206.17,287.9 211.7,306.5 217.23,304.4 222.76,302.3 228.29,314.7 233.82,294.1 239.35,297.2 244.88,301.3 250.41,306.5 255.94,311.6 261.47,296.2 267,306.5 272.53,303.4 278.06,291" fill="none" stroke="#000" stroke-width="1.35" stroke-linejoin="round"/>
<line x1="108.6" y1="304.3" x2="108.6" y2="308.3" stroke="#000" stroke-width="1.15"/>
<line x1="112" y1="297" x2="112" y2="319" stroke="#000" stroke-width="1.15"/>
<line x1="117.4" y1="306.5" x2="117.4" y2="325.5" stroke="#000" stroke-width="1.15"/>
<line x1="122.9" y1="303.2" x2="122.9" y2="311.2" stroke="#000" stroke-width="1.15"/>
<line x1="128.5" y1="305" x2="128.5" y2="311" stroke="#000" stroke-width="1.15"/>
<line x1="137.3" y1="295.7" x2="137.3" y2="308.7" stroke="#000" stroke-width="1.15"/>
<line x1="142" y1="287.71" x2="142" y2="315.73" stroke="#000" stroke-width="1.15"/>
<line x1="142.54" y1="279.25" x2="142.54" y2="303.3" stroke="#000" stroke-width="1.15"/>
<line x1="143.09" y1="273.65" x2="143.09" y2="290.66" stroke="#000" stroke-width="1.15"/>
<line x1="143.63" y1="279.47" x2="143.63" y2="295.9" stroke="#000" stroke-width="1.15"/>
<line x1="144.17" y1="268.18" x2="144.17" y2="288.45" stroke="#000" stroke-width="1.15"/>
<line x1="144.72" y1="261.29" x2="144.72" y2="282.11" stroke="#000" stroke-width="1.15"/>
<line x1="145.26" y1="251.75" x2="145.26" y2="277.74" stroke="#000" stroke-width="1.15"/>
<line x1="145.8" y1="251.85" x2="145.8" y2="268.65" stroke="#000" stroke-width="1.15"/>
<line x1="146.35" y1="248.19" x2="146.35" y2="265.5" stroke="#000" stroke-width="1.15"/>
<line x1="146.89" y1="245.78" x2="146.89" y2="272.87" stroke="#000" stroke-width="1.15"/>
<line x1="147.43" y1="249.33" x2="147.43" y2="264.29" stroke="#000" stroke-width="1.15"/>
<line x1="147.98" y1="238.95" x2="147.98" y2="267.42" stroke="#000" stroke-width="1.15"/>
<line x1="148.52" y1="237.82" x2="148.52" y2="260.57" stroke="#000" stroke-width="1.15"/>
<line x1="149.07" y1="239.77" x2="149.07" y2="263.15" stroke="#000" stroke-width="1.15"/>
<line x1="149.61" y1="238.53" x2="149.61" y2="262.38" stroke="#000" stroke-width="1.15"/>
<line x1="150.15" y1="240.98" x2="150.15" y2="264.18" stroke="#000" stroke-width="1.15"/>
<line x1="150.7" y1="248.52" x2="150.7" y2="270.68" stroke="#000" stroke-width="1.15"/>
<line x1="151.24" y1="246.04" x2="151.24" y2="260.24" stroke="#000" stroke-width="1.15"/>
<line x1="151.78" y1="255.69" x2="151.78" y2="276.41" stroke="#000" stroke-width="1.15"/>
<line x1="152.33" y1="247.05" x2="152.33" y2="274.82" stroke="#000" stroke-width="1.15"/>
<line x1="152.87" y1="257.69" x2="152.87" y2="282.12" stroke="#000" stroke-width="1.15"/>
<line x1="153.41" y1="267.42" x2="153.41" y2="285.02" stroke="#000" stroke-width="1.15"/>
<line x1="153.96" y1="258.75" x2="153.96" y2="285.47" stroke="#000" stroke-width="1.15"/>
<line x1="154.5" y1="257.8" x2="154.5" y2="282.77" stroke="#000" stroke-width="1.15"/>
<line x1="156.4" y1="267.5" x2="156.4" y2="285.5" stroke="#000" stroke-width="1.15"/>
<line x1="161.93" y1="265.8" x2="161.93" y2="283.8" stroke="#000" stroke-width="1.15"/>
<line x1="167.46" y1="273.6" x2="167.46" y2="287.6" stroke="#000" stroke-width="1.15"/>
<line x1="172.99" y1="284" x2="172.99" y2="300" stroke="#000" stroke-width="1.15"/>
<line x1="178.52" y1="284.5" x2="178.52" y2="297.5" stroke="#000" stroke-width="1.15"/>
<line x1="184.05" y1="282.5" x2="184.05" y2="299.5" stroke="#000" stroke-width="1.15"/>
<line x1="189.58" y1="264.7" x2="189.58" y2="292.7" stroke="#000" stroke-width="1.15"/>
<line x1="195.11" y1="283.5" x2="195.11" y2="296.5" stroke="#000" stroke-width="1.15"/>
<line x1="200.64" y1="276.5" x2="200.64" y2="298.5" stroke="#000" stroke-width="1.15"/>
<line x1="206.17" y1="276.4" x2="206.17" y2="299.4" stroke="#000" stroke-width="1.15"/>
<line x1="211.7" y1="299.5" x2="211.7" y2="313.5" stroke="#000" stroke-width="1.15"/>
<line x1="217.23" y1="293.9" x2="217.23" y2="314.9" stroke="#000" stroke-width="1.15"/>
<line x1="222.76" y1="289.3" x2="222.76" y2="315.3" stroke="#000" stroke-width="1.15"/>
<line x1="228.29" y1="303.7" x2="228.29" y2="325.7" stroke="#000" stroke-width="1.15"/>
<line x1="233.82" y1="283.1" x2="233.82" y2="305.1" stroke="#000" stroke-width="1.15"/>
<line x1="239.35" y1="291.2" x2="239.35" y2="303.2" stroke="#000" stroke-width="1.15"/>
<line x1="244.88" y1="295.3" x2="244.88" y2="307.3" stroke="#000" stroke-width="1.15"/>
<line x1="250.41" y1="297.5" x2="250.41" y2="315.5" stroke="#000" stroke-width="1.15"/>
<line x1="255.94" y1="303.6" x2="255.94" y2="319.6" stroke="#000" stroke-width="1.15"/>
<line x1="261.47" y1="286.2" x2="261.47" y2="306.2" stroke="#000" stroke-width="1.15"/>
<line x1="267" y1="295.5" x2="267" y2="317.5" stroke="#000" stroke-width="1.15"/>
<line x1="272.53" y1="298.4" x2="272.53" y2="308.4" stroke="#000" stroke-width="1.15"/>
<line x1="278.06" y1="278" x2="278.06" y2="304" stroke="#000" stroke-width="1.15"/>
<line x1="232.1" y1="223.1" x2="241.2" y2="223.1" stroke="#000" stroke-width="1.4"/>
<text x="245.5" y="225.1" font-size="12.7">WT</text>
<line x1="232.1" y1="231.8" x2="241.2" y2="231.8" stroke="#ec3326" stroke-width="1.4"/>
<text x="246.4" y="238.2" font-size="12.7">KO</text>
<rect x="342.2" y="315.1" width="24.1" height="18" fill="#7a7a7a"/>
<rect x="376.4" y="316.1" width="24.1" height="17" fill="#ec3326"/>
<circle cx="354.5" cy="288.3" r="1.55" fill="#000"/>
<circle cx="354.1" cy="299.9" r="1.55" fill="#000"/>
<circle cx="351.7" cy="304.3" r="1.55" fill="#000"/>
<circle cx="356" cy="307.5" r="1.55" fill="#000"/>
<circle cx="354.5" cy="318.9" r="1.55" fill="#000"/>
<circle cx="346.9" cy="323.3" r="1.55" fill="#000"/>
<circle cx="352.3" cy="324" r="1.55" fill="#000"/>
<circle cx="356.4" cy="326.5" r="1.55" fill="#000"/>
<circle cx="361.2" cy="323.3" r="1.55" fill="#000"/>
<circle cx="354.5" cy="338.5" r="1.55" fill="#000"/>
<circle cx="388.3" cy="263" r="1.55" fill="#000"/>
<circle cx="388.3" cy="313.2" r="1.55" fill="#000"/>
<circle cx="386.4" cy="318.9" r="1.55" fill="#000"/>
<circle cx="381.5" cy="327.8" r="1.55" fill="#000"/>
<circle cx="386.4" cy="330.9" r="1.55" fill="#000"/>
<circle cx="390.6" cy="328.4" r="1.55" fill="#000"/>
<circle cx="395.3" cy="326.5" r="1.55" fill="#000"/>
<circle cx="388.3" cy="322.7" r="1.55" fill="#000"/>
<line x1="354.5" y1="310.4" x2="354.5" y2="320.2" stroke="#000" stroke-width="1.3"/>
<line x1="351.3" y1="310.4" x2="357.7" y2="310.4" stroke="#000" stroke-width="1.3"/>
<line x1="351.3" y1="320.2" x2="357.7" y2="320.2" stroke="#000" stroke-width="1.3"/>
<line x1="388.3" y1="308.8" x2="388.3" y2="324.6" stroke="#000" stroke-width="1.3"/>
<line x1="385.1" y1="308.8" x2="391.5" y2="308.8" stroke="#000" stroke-width="1.3"/>
<line x1="385.1" y1="324.6" x2="391.5" y2="324.6" stroke="#000" stroke-width="1.3"/>
<path d="M336.5 250.1V349.7" fill="none" stroke="#000" stroke-width="1.4"/>
<line x1="336.5" y1="333.1" x2="405.8" y2="333.1" stroke="#000" stroke-width="1.4"/>
<line x1="333.5" y1="250.1" x2="336.5" y2="250.1" stroke="#000" stroke-width="1.4"/>
<text x="332.2" y="254.6" font-size="12.7" text-anchor="end">0.25</text>
<line x1="333.5" y1="266.7" x2="336.5" y2="266.7" stroke="#000" stroke-width="1.4"/>
<text x="332.2" y="271.2" font-size="12.7" text-anchor="end">0.20</text>
<line x1="333.5" y1="283.3" x2="336.5" y2="283.3" stroke="#000" stroke-width="1.4"/>
<text x="332.2" y="287.8" font-size="12.7" text-anchor="end">0.15</text>
<line x1="333.5" y1="299.9" x2="336.5" y2="299.9" stroke="#000" stroke-width="1.4"/>
<text x="332.2" y="304.4" font-size="12.7" text-anchor="end">0.10</text>
<line x1="333.5" y1="316.5" x2="336.5" y2="316.5" stroke="#000" stroke-width="1.4"/>
<text x="332.2" y="321" font-size="12.7" text-anchor="end">0.05</text>
<line x1="333.5" y1="333.1" x2="336.5" y2="333.1" stroke="#000" stroke-width="1.4"/>
<text x="332.2" y="337.6" font-size="12.7" text-anchor="end">0.00</text>
<line x1="333.5" y1="349.7" x2="336.5" y2="349.7" stroke="#000" stroke-width="1.4"/>
<text x="332.2" y="354.2" font-size="12.7" text-anchor="end">-0.05</text>
<line x1="354.2" y1="333.1" x2="354.2" y2="336.4" stroke="#000" stroke-width="1.4"/>
<text x="364.2" y="356.2" font-size="12.7" text-anchor="end" transform="rotate(-45 364.2 356.2)">WT</text>
<line x1="388.4" y1="333.1" x2="388.4" y2="336.4" stroke="#000" stroke-width="1.4"/>
<text x="397.6" y="356.4" font-size="12.7" text-anchor="end" transform="rotate(-45 397.6 356.4)">KO</text>
<text x="373.3" y="224.3" font-size="12.7" text-anchor="middle">transient</text>
<line x1="354.5" y1="246.5" x2="388.3" y2="246.5" stroke="#000" stroke-width="1.3"/>
<text x="373.5" y="243.3" font-size="12.7" text-anchor="middle">ns</text>
<text x="303.5" y="289.4" font-size="12.7" text-anchor="middle" transform="rotate(-90 303.5 289.4)" textLength="85.7" lengthAdjust="spacingAndGlyphs">Binding fraction</text>
<polygon points="297.9,338.5 302.84,335.9 302.84,341.1" fill="none" stroke="#231f20" stroke-width="0.85"/>
<rect x="457.3" y="299" width="23.9" height="11.7" fill="#7a7a7a"/>
<rect x="491.1" y="300.3" width="23.7" height="10.4" fill="#ec3326"/>
<circle cx="469.3" cy="253.1" r="1.55" fill="#000"/>
<circle cx="466.4" cy="280.1" r="1.55" fill="#000"/>
<circle cx="471.7" cy="281.2" r="1.55" fill="#000"/>
<circle cx="466.4" cy="296.7" r="1.55" fill="#000"/>
<circle cx="471.2" cy="294.2" r="1.55" fill="#000"/>
<circle cx="468.3" cy="302.4" r="1.55" fill="#000"/>
<circle cx="471.2" cy="305.6" r="1.55" fill="#000"/>
<circle cx="466.8" cy="309.4" r="1.55" fill="#000"/>
<circle cx="469.3" cy="329.7" r="1.55" fill="#000"/>
<circle cx="469.3" cy="344.5" r="1.55" fill="#000"/>
<circle cx="503.1" cy="263.6" r="1.55" fill="#000"/>
<circle cx="503.1" cy="269.8" r="1.55" fill="#000"/>
<circle cx="503.1" cy="286.6" r="1.55" fill="#000"/>
<circle cx="503.1" cy="299.9" r="1.55" fill="#000"/>
<circle cx="503.1" cy="304.7" r="1.55" fill="#000"/>
<circle cx="503.1" cy="310" r="1.55" fill="#000"/>
<circle cx="503.1" cy="323.7" r="1.55" fill="#000"/>
<circle cx="500.6" cy="329.7" r="1.55" fill="#000"/>
<circle cx="505.3" cy="329.7" r="1.55" fill="#000"/>
<line x1="469.3" y1="291.8" x2="469.3" y2="306.6" stroke="#000" stroke-width="1.3"/>
<line x1="466.1" y1="291.8" x2="472.5" y2="291.8" stroke="#000" stroke-width="1.3"/>
<line x1="466.1" y1="306.6" x2="472.5" y2="306.6" stroke="#000" stroke-width="1.3"/>
<line x1="503.1" y1="291.4" x2="503.1" y2="306.6" stroke="#000" stroke-width="1.3"/>
<line x1="499.9" y1="291.4" x2="506.3" y2="291.4" stroke="#000" stroke-width="1.3"/>
<line x1="499.9" y1="306.6" x2="506.3" y2="306.6" stroke="#000" stroke-width="1.3"/>
<path d="M451.4 249.7V351.37" fill="none" stroke="#000" stroke-width="1.4"/>
<line x1="451.4" y1="310.7" x2="520" y2="310.7" stroke="#000" stroke-width="1.4"/>
<line x1="448.4" y1="249.7" x2="451.4" y2="249.7" stroke="#000" stroke-width="1.4"/>
<text x="447.1" y="254.2" font-size="12.7" text-anchor="end">0.06</text>
<line x1="448.4" y1="270.03" x2="451.4" y2="270.03" stroke="#000" stroke-width="1.4"/>
<text x="447.1" y="274.53" font-size="12.7" text-anchor="end">0.04</text>
<line x1="448.4" y1="290.37" x2="451.4" y2="290.37" stroke="#000" stroke-width="1.4"/>
<text x="447.1" y="294.87" font-size="12.7" text-anchor="end">0.02</text>
<line x1="448.4" y1="310.7" x2="451.4" y2="310.7" stroke="#000" stroke-width="1.4"/>
<text x="447.1" y="315.2" font-size="12.7" text-anchor="end">0.00</text>
<line x1="448.4" y1="331.03" x2="451.4" y2="331.03" stroke="#000" stroke-width="1.4"/>
<text x="447.1" y="335.53" font-size="12.7" text-anchor="end">-0.02</text>
<line x1="448.4" y1="351.37" x2="451.4" y2="351.37" stroke="#000" stroke-width="1.4"/>
<text x="447.1" y="355.87" font-size="12.7" text-anchor="end">-0.04</text>
<line x1="469.3" y1="310.7" x2="469.3" y2="314" stroke="#000" stroke-width="1.4"/>
<text x="481.3" y="355.2" font-size="12.7" text-anchor="end" transform="rotate(-45 481.3 355.2)">WT</text>
<line x1="503.1" y1="310.7" x2="503.1" y2="314" stroke="#000" stroke-width="1.4"/>
<text x="514.7" y="355.6" font-size="12.7" text-anchor="end" transform="rotate(-45 514.7 355.6)">KO</text>
<text x="489.25" y="222.8" font-size="12.7" text-anchor="middle">sustained</text>
<line x1="469.3" y1="246.5" x2="502.9" y2="246.5" stroke="#000" stroke-width="1.3"/>
<text x="487.8" y="243.7" font-size="12.7" text-anchor="middle">ns</text>
<text x="418.5" y="289.4" font-size="12.7" text-anchor="middle" transform="rotate(-90 418.5 289.4)" textLength="85.7" lengthAdjust="spacingAndGlyphs">Binding fraction</text>
<polygon points="412.9,339.3 417.84,336.7 417.84,341.9" fill="none" stroke="#231f20" stroke-width="0.85"/>
<text x="25.7" y="395.8" font-size="12.7">Cdc42</text>
<text x="39.8" y="408.8" font-size="11" textLength="41.3" lengthAdjust="spacingAndGlyphs" stroke="#231f20" stroke-width="0.35">-1.5 min</text>
<text x="102.8" y="408.3" font-size="11" textLength="36.9" lengthAdjust="spacingAndGlyphs" stroke="#231f20" stroke-width="0.35">1.5 min</text>
<text x="159.9" y="408.3" font-size="11" textLength="44" lengthAdjust="spacingAndGlyphs" stroke="#231f20" stroke-width="0.35">20.5 min</text>
<text x="4.8" y="448.8" font-size="12.7">WT</text>
<text x="4.8" y="508.5" font-size="12.7">KO</text>
<rect x="26.2" y="409.8" width="188.4" height="62.6" fill="#000"/>
<rect x="26.2" y="476.3" width="188.8" height="62.5" fill="#000"/>
<clipPath id="cl7"><polygon points="58.7,409.8 58.2,416.6 60.6,426.2 64,433.9 64.5,441.6 63.5,447.4 60.6,449.3 62.5,453.2 62.5,462.8 59.6,468.6 60.6,472.4 71.2,472.4 71.7,467.6 71.2,458 71.2,443.5 70.2,434.9 66.4,426.2 65.9,414.6 67.8,409.8"/><polygon points="56.8,449.6 62,449 62.5,452.5 57,452.8"/><circle cx="56.8" cy="451.2" r="2.6"/><circle cx="73.6" cy="427.2" r="3.6"/></clipPath>
<g filter="url(#soft)"><g clip-path="url(#cl7)">
<rect x="53" y="409.8" width="25" height="62.6" fill="#000" filter="url(#ncdc)"/>
</g></g>
<clipPath id="cl8"><polygon points="122.7,409.8 121.2,419.5 122.7,424.3 124.6,432 126.5,438.7 127,447.4 119.8,449.3 114.5,452.2 114,456.1 116.9,459 120.8,459.9 124.1,459.4 125.1,464.7 124.6,472.4 134.2,472.4 133.8,458 134.2,451.2 133.3,443.5 132.8,435.8 131.4,428.1 128.5,424.3 129.4,414.6 131.8,409.8"/><circle cx="136.2" cy="430.5" r="4"/></clipPath>
<g filter="url(#soft)"><g clip-path="url(#cl8)">
<rect x="112" y="409.8" width="29" height="62.6" fill="#000" filter="url(#ncdc)"/>
</g></g>
<clipPath id="cl9"><polygon points="183.7,409.8 183.3,419.9 185.7,427.8 188.7,434.8 190.2,444.7 183.7,446.7 179.3,448.7 178.3,451.7 180.3,454.7 183.7,455.1 187.7,453.7 189.2,460.6 187.7,466.6 181.8,469.5 179.8,472.4 199.6,472.4 199.1,464.6 197.7,454.7 196.7,444.7 195.7,433.8 191.7,424.9 190.7,416.9 191.7,409.8"/><circle cx="198.6" cy="427.8" r="4.3"/></clipPath>
<g filter="url(#soft)"><g clip-path="url(#cl9)">
<rect x="176" y="409.8" width="28" height="62.6" fill="#000" filter="url(#ncdc)"/>
</g></g>
<polygon points="42.3,448.4 42.3,456.1 49.6,451.9" fill="#ffffff"/>
<rect x="150.8" y="464.1" width="8.1" height="1.7" fill="#d8d8d8"/>
<clipPath id="cl10"><polygon points="26,495.7 38,494.7 52,497.1 64.6,497.8 73,494.3 85.7,495.7 89.9,492.2 99.7,490.5 110.9,492.2 119,493.1 132.3,487.2 139.5,489.7 152.3,490.9 159.5,488.3 169.5,490.5 178.1,494 188.1,489 196.7,486.2 206.7,488.3 215,489 215,494 209.6,494.7 201,497.6 185.2,500.5 172.4,500.5 163.8,498.3 152.3,496.2 138,498.3 118,505.5 112.3,504.1 102.5,502 89.9,501.3 80.1,502.7 61.8,507.6 50.6,506.9 38,505.5 26,504.8"/><circle cx="54.1" cy="510.2" r="3"/><circle cx="71" cy="507.4" r="3.3"/><circle cx="115.8" cy="505.5" r="2.5"/><circle cx="132.3" cy="503" r="5"/><circle cx="176.7" cy="504.3" r="3"/><circle cx="192.4" cy="502.8" r="4"/></clipPath>
<g filter="url(#soft)"><g clip-path="url(#cl10)">
<rect x="26" y="484" width="189" height="32" fill="#000" filter="url(#ncdcko)"/>
</g></g>
<polygon points="68.6,522.8 76.6,522.8 72.5,515.9" fill="#ffffff"/>
<rect x="150.6" y="529" width="8.2" height="1.7" fill="#d8d8d8"/>
<rect x="79.3" y="543.9" width="89.6" height="6.5" fill="url(#jet)"/>
<text x="51.2" y="551.9" font-size="12.7">0.37</text>
<text x="169.4" y="551.9" font-size="12.7">0.00</text>
<text x="80.7" y="562.8" font-size="12.7" textLength="86.2" lengthAdjust="spacingAndGlyphs">binding fraction</text>
<rect x="304.6" y="423.85" width="5.5" height="118.75" fill="#dcdcdc"/>
<line x1="305.6" y1="517.4" x2="444.5" y2="517.4" stroke="#222" stroke-width="1.1" stroke-dasharray="1.3,2.4"/>
<path d="M265.8 423.85V542.6H444.5" fill="none" stroke="#000" stroke-width="1.4"/>
<line x1="263" y1="423.85" x2="265.8" y2="423.85" stroke="#000" stroke-width="1.4"/>
<text x="261.6" y="428.35" font-size="12.7" text-anchor="end">250</text>
<line x1="263" y1="442.56" x2="265.8" y2="442.56" stroke="#000" stroke-width="1.4"/>
<text x="261.6" y="447.06" font-size="12.7" text-anchor="end">200</text>
<line x1="263" y1="461.27" x2="265.8" y2="461.27" stroke="#000" stroke-width="1.4"/>
<text x="261.6" y="465.77" font-size="12.7" text-anchor="end">150</text>
<line x1="263" y1="479.98" x2="265.8" y2="479.98" stroke="#000" stroke-width="1.4"/>
<text x="261.6" y="484.48" font-size="12.7" text-anchor="end">100</text>
<line x1="263" y1="498.69" x2="265.8" y2="498.69" stroke="#000" stroke-width="1.4"/>
<text x="261.6" y="503.19" font-size="12.7" text-anchor="end">50</text>
<line x1="263" y1="517.4" x2="265.8" y2="517.4" stroke="#000" stroke-width="1.4"/>
<text x="261.6" y="521.9" font-size="12.7" text-anchor="end">0</text>
<line x1="263" y1="536.11" x2="265.8" y2="536.11" stroke="#000" stroke-width="1.4"/>
<text x="261.6" y="540.61" font-size="12.7" text-anchor="end">-50</text>
<line x1="276.5" y1="542.6" x2="276.5" y2="545.6" stroke="#000" stroke-width="1.4"/>
<text x="278.4" y="557.2" font-size="12.7" text-anchor="middle">-5</text>
<line x1="304.5" y1="542.6" x2="304.5" y2="545.6" stroke="#000" stroke-width="1.4"/>
<text x="304.8" y="557.2" font-size="12.7" text-anchor="middle">0</text>
<line x1="332.5" y1="542.6" x2="332.5" y2="545.6" stroke="#000" stroke-width="1.4"/>
<text x="332.8" y="557.2" font-size="12.7" text-anchor="middle">5</text>
<line x1="360.5" y1="542.6" x2="360.5" y2="545.6" stroke="#000" stroke-width="1.4"/>
<text x="360.8" y="557.2" font-size="12.7" text-anchor="middle">10</text>
<line x1="388.5" y1="542.6" x2="388.5" y2="545.6" stroke="#000" stroke-width="1.4"/>
<text x="388.8" y="557.2" font-size="12.7" text-anchor="middle">15</text>
<line x1="416.5" y1="542.6" x2="416.5" y2="545.6" stroke="#000" stroke-width="1.4"/>
<text x="416.8" y="557.2" font-size="12.7" text-anchor="middle">20</text>
<line x1="444.5" y1="542.6" x2="444.5" y2="545.6" stroke="#000" stroke-width="1.4"/>
<text x="444.8" y="557.2" font-size="12.7" text-anchor="middle">25</text>
<text x="366.8" y="567.7" font-size="12.7" text-anchor="middle">Time(min)</text>
<text x="233.5" y="474.8" font-size="12.7" text-anchor="middle" transform="rotate(-90 233.5 474.8)" textLength="113" lengthAdjust="spacingAndGlyphs">Volume change (%)</text>
<polyline points="270.7,517.8 275.4,518.2 281,518 286.8,517.8 293.8,516.1 299,517 304,516.85 304.41,513.1 304.82,510.12 305.23,511.23 305.64,507.4 306.05,502.78 306.45,501.95 306.86,498.56 307.27,493.13 307.68,490.73 308.09,487.63 308.5,483.53 308.91,479.13 309.32,478.15 309.73,473.87 310.14,470.11 310.55,467.31 310.95,464.12 311.36,464.7 311.77,460.65 312.18,457.55 312.59,459.85 313,457.39 313.41,457.04 313.82,455.27 314.23,454.52 314.64,454.25 315.05,456.71 315.45,456.95 315.86,458.37 316.27,458.32 316.68,458.44 317.09,456.22 317.5,458.43 321.2,451.8 326.81,461.8 332.42,468.1 338.03,473.2 343.64,473.7 349.25,476.4 354.86,475.7 360.47,476.4 366.08,484.1 371.69,485.3 377.3,485.3 382.91,487.5 388.52,489 394.13,486.5 399.74,488.5 405.35,490 410.96,490 416.57,490 422.18,489.9 427.79,492.4 433.4,491.4 439.01,493 444.62,493" fill="none" stroke="#000" stroke-width="1.35" stroke-linejoin="round"/>
<line x1="270.7" y1="516.8" x2="270.7" y2="518.8" stroke="#000" stroke-width="1.15"/>
<line x1="275.4" y1="517.2" x2="275.4" y2="519.2" stroke="#000" stroke-width="1.15"/>
<line x1="281" y1="517" x2="281" y2="519" stroke="#000" stroke-width="1.15"/>
<line x1="286.8" y1="516.3" x2="286.8" y2="519.3" stroke="#000" stroke-width="1.15"/>
<line x1="293.8" y1="514.1" x2="293.8" y2="518.1" stroke="#000" stroke-width="1.15"/>
<line x1="299" y1="515.5" x2="299" y2="518.5" stroke="#000" stroke-width="1.15"/>
<line x1="304" y1="510.82" x2="304" y2="522.88" stroke="#000" stroke-width="1.15"/>
<line x1="304.41" y1="504.65" x2="304.41" y2="521.55" stroke="#000" stroke-width="1.15"/>
<line x1="304.82" y1="503.45" x2="304.82" y2="516.78" stroke="#000" stroke-width="1.15"/>
<line x1="305.23" y1="506.63" x2="305.23" y2="515.83" stroke="#000" stroke-width="1.15"/>
<line x1="305.64" y1="500.18" x2="305.64" y2="514.62" stroke="#000" stroke-width="1.15"/>
<line x1="306.05" y1="496.72" x2="306.05" y2="508.83" stroke="#000" stroke-width="1.15"/>
<line x1="306.45" y1="495.54" x2="306.45" y2="508.37" stroke="#000" stroke-width="1.15"/>
<line x1="306.86" y1="493.59" x2="306.86" y2="503.53" stroke="#000" stroke-width="1.15"/>
<line x1="307.27" y1="488.39" x2="307.27" y2="497.88" stroke="#000" stroke-width="1.15"/>
<line x1="307.68" y1="482" x2="307.68" y2="499.46" stroke="#000" stroke-width="1.15"/>
<line x1="308.09" y1="479.64" x2="308.09" y2="495.63" stroke="#000" stroke-width="1.15"/>
<line x1="308.5" y1="475.68" x2="308.5" y2="491.39" stroke="#000" stroke-width="1.15"/>
<line x1="308.91" y1="473.51" x2="308.91" y2="484.76" stroke="#000" stroke-width="1.15"/>
<line x1="309.32" y1="470.4" x2="309.32" y2="485.91" stroke="#000" stroke-width="1.15"/>
<line x1="309.73" y1="469.24" x2="309.73" y2="478.5" stroke="#000" stroke-width="1.15"/>
<line x1="310.14" y1="464.88" x2="310.14" y2="475.34" stroke="#000" stroke-width="1.15"/>
<line x1="310.55" y1="459.14" x2="310.55" y2="475.47" stroke="#000" stroke-width="1.15"/>
<line x1="310.95" y1="455.57" x2="310.95" y2="472.66" stroke="#000" stroke-width="1.15"/>
<line x1="311.36" y1="460.23" x2="311.36" y2="469.17" stroke="#000" stroke-width="1.15"/>
<line x1="311.77" y1="454.04" x2="311.77" y2="467.26" stroke="#000" stroke-width="1.15"/>
<line x1="312.18" y1="451.27" x2="312.18" y2="463.83" stroke="#000" stroke-width="1.15"/>
<line x1="312.59" y1="455.1" x2="312.59" y2="464.6" stroke="#000" stroke-width="1.15"/>
<line x1="313" y1="452.59" x2="313" y2="462.18" stroke="#000" stroke-width="1.15"/>
<line x1="313.41" y1="448.46" x2="313.41" y2="465.63" stroke="#000" stroke-width="1.15"/>
<line x1="313.82" y1="451.03" x2="313.82" y2="459.51" stroke="#000" stroke-width="1.15"/>
<line x1="314.23" y1="447.67" x2="314.23" y2="461.36" stroke="#000" stroke-width="1.15"/>
<line x1="314.64" y1="449.64" x2="314.64" y2="458.87" stroke="#000" stroke-width="1.15"/>
<line x1="315.05" y1="448" x2="315.05" y2="465.43" stroke="#000" stroke-width="1.15"/>
<line x1="315.45" y1="450.8" x2="315.45" y2="463.1" stroke="#000" stroke-width="1.15"/>
<line x1="315.86" y1="453.72" x2="315.86" y2="463.03" stroke="#000" stroke-width="1.15"/>
<line x1="316.27" y1="453.27" x2="316.27" y2="463.36" stroke="#000" stroke-width="1.15"/>
<line x1="316.68" y1="449.54" x2="316.68" y2="467.33" stroke="#000" stroke-width="1.15"/>
<line x1="317.09" y1="449.3" x2="317.09" y2="463.14" stroke="#000" stroke-width="1.15"/>
<line x1="317.5" y1="453.49" x2="317.5" y2="463.36" stroke="#000" stroke-width="1.15"/>
<line x1="321.2" y1="443.8" x2="321.2" y2="459.8" stroke="#000" stroke-width="1.15"/>
<line x1="326.81" y1="454.8" x2="326.81" y2="468.8" stroke="#000" stroke-width="1.15"/>
<line x1="332.42" y1="461.8" x2="332.42" y2="474.4" stroke="#000" stroke-width="1.15"/>
<line x1="338.03" y1="468" x2="338.03" y2="478.4" stroke="#000" stroke-width="1.15"/>
<line x1="343.64" y1="467.4" x2="343.64" y2="480" stroke="#000" stroke-width="1.15"/>
<line x1="349.25" y1="470.4" x2="349.25" y2="482.4" stroke="#000" stroke-width="1.15"/>
<line x1="354.86" y1="468" x2="354.86" y2="483.4" stroke="#000" stroke-width="1.15"/>
<line x1="360.47" y1="468.7" x2="360.47" y2="484.1" stroke="#000" stroke-width="1.15"/>
<line x1="366.08" y1="479.1" x2="366.08" y2="489.1" stroke="#000" stroke-width="1.15"/>
<line x1="371.69" y1="480.3" x2="371.69" y2="490.3" stroke="#000" stroke-width="1.15"/>
<line x1="377.3" y1="480.8" x2="377.3" y2="489.8" stroke="#000" stroke-width="1.15"/>
<line x1="382.91" y1="484.5" x2="382.91" y2="490.5" stroke="#000" stroke-width="1.15"/>
<line x1="388.52" y1="486" x2="388.52" y2="492" stroke="#000" stroke-width="1.15"/>
<line x1="394.13" y1="481.5" x2="394.13" y2="491.5" stroke="#000" stroke-width="1.15"/>
<line x1="399.74" y1="485.5" x2="399.74" y2="491.5" stroke="#000" stroke-width="1.15"/>
<line x1="405.35" y1="487" x2="405.35" y2="493" stroke="#000" stroke-width="1.15"/>
<line x1="410.96" y1="487" x2="410.96" y2="493" stroke="#000" stroke-width="1.15"/>
<line x1="416.57" y1="487" x2="416.57" y2="493" stroke="#000" stroke-width="1.15"/>
<line x1="422.18" y1="486.9" x2="422.18" y2="492.9" stroke="#000" stroke-width="1.15"/>
<line x1="427.79" y1="489.4" x2="427.79" y2="495.4" stroke="#000" stroke-width="1.15"/>
<line x1="433.4" y1="488.4" x2="433.4" y2="494.4" stroke="#000" stroke-width="1.15"/>
<line x1="439.01" y1="490" x2="439.01" y2="496" stroke="#000" stroke-width="1.15"/>
<line x1="444.62" y1="490" x2="444.62" y2="496" stroke="#000" stroke-width="1.15"/>
<polyline points="270.7,517.5 275.4,518.7 281.6,516.4 287.2,514.3 293.8,514 299,516 303.5,520.4 305.5,520.29 305.88,518.04 306.26,516.7 306.64,513.33 307.02,509.26 307.4,504.63 307.78,504.08 308.16,500.51 308.53,496.32 308.91,495.22 309.29,492.98 309.67,488.5 310.05,489.67 310.43,486.3 310.81,481.96 311.19,483.82 311.57,479.62 311.95,477.52 312.33,476.6 312.71,475.86 313.09,472.82 313.47,472.52 313.84,471.53 314.22,471.18 314.6,471.21 314.98,469.3 315.36,468.68 315.74,469.58 316.12,467.91 316.5,471.79 321.2,469.1 326.81,474.4 332.42,480.6 338.03,490.4 343.64,493.2 349.25,494.6 354.86,493.6 360.47,493.6 366.08,494.6 371.69,497.5 377.3,499.4 382.91,500.4 388.52,500 394.13,501.4 399.74,503 405.35,502.4 410.96,501.4 416.57,503 422.18,505.4 427.79,502.4 433.4,503.4 439.01,500.4 444.62,501.8" fill="none" stroke="#29abe2" stroke-width="1.35" stroke-linejoin="round"/>
<line x1="270.7" y1="516" x2="270.7" y2="519" stroke="#29abe2" stroke-width="1.15"/>
<line x1="275.4" y1="517.2" x2="275.4" y2="520.2" stroke="#29abe2" stroke-width="1.15"/>
<line x1="281.6" y1="514.4" x2="281.6" y2="518.4" stroke="#29abe2" stroke-width="1.15"/>
<line x1="287.2" y1="511.3" x2="287.2" y2="517.3" stroke="#29abe2" stroke-width="1.15"/>
<line x1="293.8" y1="511" x2="293.8" y2="517" stroke="#29abe2" stroke-width="1.15"/>
<line x1="299" y1="514" x2="299" y2="518" stroke="#29abe2" stroke-width="1.15"/>
<line x1="303.5" y1="518.4" x2="303.5" y2="522.4" stroke="#29abe2" stroke-width="1.15"/>
<line x1="305.5" y1="513.08" x2="305.5" y2="527.49" stroke="#29abe2" stroke-width="1.15"/>
<line x1="305.88" y1="512.08" x2="305.88" y2="523.99" stroke="#29abe2" stroke-width="1.15"/>
<line x1="306.26" y1="507.29" x2="306.26" y2="526.11" stroke="#29abe2" stroke-width="1.15"/>
<line x1="306.64" y1="507.63" x2="306.64" y2="519.02" stroke="#29abe2" stroke-width="1.15"/>
<line x1="307.02" y1="502.62" x2="307.02" y2="515.89" stroke="#29abe2" stroke-width="1.15"/>
<line x1="307.4" y1="494.5" x2="307.4" y2="514.77" stroke="#29abe2" stroke-width="1.15"/>
<line x1="307.78" y1="499.03" x2="307.78" y2="509.13" stroke="#29abe2" stroke-width="1.15"/>
<line x1="308.16" y1="492.33" x2="308.16" y2="508.69" stroke="#29abe2" stroke-width="1.15"/>
<line x1="308.53" y1="489.93" x2="308.53" y2="502.71" stroke="#29abe2" stroke-width="1.15"/>
<line x1="308.91" y1="487.86" x2="308.91" y2="502.58" stroke="#29abe2" stroke-width="1.15"/>
<line x1="309.29" y1="484.48" x2="309.29" y2="501.49" stroke="#29abe2" stroke-width="1.15"/>
<line x1="309.67" y1="479.4" x2="309.67" y2="497.6" stroke="#29abe2" stroke-width="1.15"/>
<line x1="310.05" y1="479.44" x2="310.05" y2="499.9" stroke="#29abe2" stroke-width="1.15"/>
<line x1="310.43" y1="481.25" x2="310.43" y2="491.35" stroke="#29abe2" stroke-width="1.15"/>
<line x1="310.81" y1="476.41" x2="310.81" y2="487.51" stroke="#29abe2" stroke-width="1.15"/>
<line x1="311.19" y1="477.32" x2="311.19" y2="490.31" stroke="#29abe2" stroke-width="1.15"/>
<line x1="311.57" y1="469.79" x2="311.57" y2="489.45" stroke="#29abe2" stroke-width="1.15"/>
<line x1="311.95" y1="469.64" x2="311.95" y2="485.39" stroke="#29abe2" stroke-width="1.15"/>
<line x1="312.33" y1="471.43" x2="312.33" y2="481.76" stroke="#29abe2" stroke-width="1.15"/>
<line x1="312.71" y1="466.34" x2="312.71" y2="485.39" stroke="#29abe2" stroke-width="1.15"/>
<line x1="313.09" y1="466.77" x2="313.09" y2="478.88" stroke="#29abe2" stroke-width="1.15"/>
<line x1="313.47" y1="467.52" x2="313.47" y2="477.53" stroke="#29abe2" stroke-width="1.15"/>
<line x1="313.84" y1="462.15" x2="313.84" y2="480.91" stroke="#29abe2" stroke-width="1.15"/>
<line x1="314.22" y1="463.4" x2="314.22" y2="478.97" stroke="#29abe2" stroke-width="1.15"/>
<line x1="314.6" y1="465.58" x2="314.6" y2="476.85" stroke="#29abe2" stroke-width="1.15"/>
<line x1="314.98" y1="462.41" x2="314.98" y2="476.2" stroke="#29abe2" stroke-width="1.15"/>
<line x1="315.36" y1="463.25" x2="315.36" y2="474.11" stroke="#29abe2" stroke-width="1.15"/>
<line x1="315.74" y1="464.24" x2="315.74" y2="474.93" stroke="#29abe2" stroke-width="1.15"/>
<line x1="316.12" y1="458.59" x2="316.12" y2="477.23" stroke="#29abe2" stroke-width="1.15"/>
<line x1="316.5" y1="464.56" x2="316.5" y2="479.02" stroke="#29abe2" stroke-width="1.15"/>
<line x1="321.2" y1="461.1" x2="321.2" y2="477.1" stroke="#29abe2" stroke-width="1.15"/>
<line x1="326.81" y1="469.1" x2="326.81" y2="479.7" stroke="#29abe2" stroke-width="1.15"/>
<line x1="332.42" y1="475.6" x2="332.42" y2="485.6" stroke="#29abe2" stroke-width="1.15"/>
<line x1="338.03" y1="486.9" x2="338.03" y2="493.9" stroke="#29abe2" stroke-width="1.15"/>
<line x1="343.64" y1="490.2" x2="343.64" y2="496.2" stroke="#29abe2" stroke-width="1.15"/>
<line x1="349.25" y1="490.8" x2="349.25" y2="498.4" stroke="#29abe2" stroke-width="1.15"/>
<line x1="354.86" y1="490.6" x2="354.86" y2="496.6" stroke="#29abe2" stroke-width="1.15"/>
<line x1="360.47" y1="490.6" x2="360.47" y2="496.6" stroke="#29abe2" stroke-width="1.15"/>
<line x1="366.08" y1="491.6" x2="366.08" y2="497.6" stroke="#29abe2" stroke-width="1.15"/>
<line x1="371.69" y1="494.5" x2="371.69" y2="500.5" stroke="#29abe2" stroke-width="1.15"/>
<line x1="377.3" y1="496.9" x2="377.3" y2="501.9" stroke="#29abe2" stroke-width="1.15"/>
<line x1="382.91" y1="497.9" x2="382.91" y2="502.9" stroke="#29abe2" stroke-width="1.15"/>
<line x1="388.52" y1="497.5" x2="388.52" y2="502.5" stroke="#29abe2" stroke-width="1.15"/>
<line x1="394.13" y1="498.4" x2="394.13" y2="504.4" stroke="#29abe2" stroke-width="1.15"/>
<line x1="399.74" y1="500" x2="399.74" y2="506" stroke="#29abe2" stroke-width="1.15"/>
<line x1="405.35" y1="499.4" x2="405.35" y2="505.4" stroke="#29abe2" stroke-width="1.15"/>
<line x1="410.96" y1="498.4" x2="410.96" y2="504.4" stroke="#29abe2" stroke-width="1.15"/>
<line x1="416.57" y1="500" x2="416.57" y2="506" stroke="#29abe2" stroke-width="1.15"/>
<line x1="422.18" y1="501.4" x2="422.18" y2="509.4" stroke="#29abe2" stroke-width="1.15"/>
<line x1="427.79" y1="499.9" x2="427.79" y2="504.9" stroke="#29abe2" stroke-width="1.15"/>
<line x1="433.4" y1="500.9" x2="433.4" y2="505.9" stroke="#29abe2" stroke-width="1.15"/>
<line x1="439.01" y1="497.4" x2="439.01" y2="503.4" stroke="#29abe2" stroke-width="1.15"/>
<line x1="444.62" y1="498.8" x2="444.62" y2="504.8" stroke="#29abe2" stroke-width="1.15"/>
<line x1="396.9" y1="409.5" x2="405.8" y2="409.5" stroke="#000" stroke-width="1.4"/>
<text x="409.8" y="413.4" font-size="12.7">WT</text>
<line x1="396.9" y1="419.8" x2="405.8" y2="419.8" stroke="#29abe2" stroke-width="1.4"/>
<text x="410.6" y="428.8" font-size="12.7">KO</text>
<rect x="504.2" y="498" width="23.5" height="39.1" fill="#7a7a7a"/>
<rect x="540" y="508.9" width="23.8" height="28.2" fill="#29abe2"/>
<circle cx="516" cy="447.5" r="1.55" fill="#000"/>
<circle cx="511.2" cy="476.7" r="1.55" fill="#000"/>
<circle cx="520.7" cy="475.8" r="1.55" fill="#000"/>
<circle cx="516" cy="478.5" r="1.55" fill="#000"/>
<circle cx="518.6" cy="481.4" r="1.55" fill="#000"/>
<circle cx="514.2" cy="478.8" r="1.55" fill="#000"/>
<circle cx="516" cy="490.1" r="1.55" fill="#000"/>
<circle cx="509" cy="502.4" r="1.55" fill="#000"/>
<circle cx="513.3" cy="503.3" r="1.55" fill="#000"/>
<circle cx="518.6" cy="502.4" r="1.55" fill="#000"/>
<circle cx="523.5" cy="503.3" r="1.55" fill="#000"/>
<circle cx="513" cy="505.9" r="1.55" fill="#000"/>
<circle cx="518.2" cy="506.8" r="1.55" fill="#000"/>
<circle cx="506.3" cy="509.4" r="1.55" fill="#000"/>
<circle cx="511.2" cy="510.6" r="1.55" fill="#000"/>
<circle cx="516" cy="510.3" r="1.55" fill="#000"/>
<circle cx="520.7" cy="510.6" r="1.55" fill="#000"/>
<circle cx="525.6" cy="507.7" r="1.55" fill="#000"/>
<circle cx="508.4" cy="515.9" r="1.55" fill="#000"/>
<circle cx="513.3" cy="517.3" r="1.55" fill="#000"/>
<circle cx="518.2" cy="516.4" r="1.55" fill="#000"/>
<circle cx="523" cy="515.9" r="1.55" fill="#000"/>
<circle cx="551.5" cy="492.4" r="1.55" fill="#000"/>
<circle cx="556.2" cy="495.9" r="1.55" fill="#000"/>
<circle cx="547" cy="500.1" r="1.55" fill="#000"/>
<circle cx="551.5" cy="500.1" r="1.55" fill="#000"/>
<circle cx="551.5" cy="511.7" r="1.55" fill="#000"/>
<circle cx="547" cy="515.6" r="1.55" fill="#000"/>
<circle cx="556.2" cy="514.7" r="1.55" fill="#000"/>
<circle cx="551.5" cy="519.4" r="1.55" fill="#000"/>
<circle cx="551.5" cy="531" r="1.55" fill="#000"/>
<line x1="516" y1="494.2" x2="516" y2="502.1" stroke="#000" stroke-width="1.3"/>
<line x1="512.8" y1="494.2" x2="519.2" y2="494.2" stroke="#000" stroke-width="1.3"/>
<line x1="512.8" y1="502.1" x2="519.2" y2="502.1" stroke="#000" stroke-width="1.3"/>
<line x1="551.5" y1="504.7" x2="551.5" y2="512.9" stroke="#000" stroke-width="1.3"/>
<line x1="548.3" y1="504.7" x2="554.7" y2="504.7" stroke="#000" stroke-width="1.3"/>
<line x1="548.3" y1="512.9" x2="554.7" y2="512.9" stroke="#000" stroke-width="1.3"/>
<path d="M497.6 430.58V537.1" fill="none" stroke="#000" stroke-width="1.4"/>
<line x1="497.6" y1="537.1" x2="567.5" y2="537.1" stroke="#000" stroke-width="1.4"/>
<line x1="494.6" y1="430.58" x2="497.6" y2="430.58" stroke="#000" stroke-width="1.4"/>
<text x="493.3" y="435.08" font-size="12.7" text-anchor="end">400</text>
<line x1="494.6" y1="457.21" x2="497.6" y2="457.21" stroke="#000" stroke-width="1.4"/>
<text x="493.3" y="461.71" font-size="12.7" text-anchor="end">300</text>
<line x1="494.6" y1="483.84" x2="497.6" y2="483.84" stroke="#000" stroke-width="1.4"/>
<text x="493.3" y="488.34" font-size="12.7" text-anchor="end">200</text>
<line x1="494.6" y1="510.47" x2="497.6" y2="510.47" stroke="#000" stroke-width="1.4"/>
<text x="493.3" y="514.97" font-size="12.7" text-anchor="end">100</text>
<line x1="494.6" y1="537.1" x2="497.6" y2="537.1" stroke="#000" stroke-width="1.4"/>
<text x="493.3" y="541.6" font-size="12.7" text-anchor="end">0</text>
<line x1="516" y1="537.1" x2="516" y2="540.4" stroke="#000" stroke-width="1.4"/>
<text x="525.3" y="549.1" font-size="12.7" text-anchor="end" transform="rotate(-45 525.3 549.1)">WT</text>
<line x1="551.8" y1="537.1" x2="551.8" y2="540.4" stroke="#000" stroke-width="1.4"/>
<text x="558.6" y="549.8" font-size="12.7" text-anchor="end" transform="rotate(-45 558.6 549.8)">KO</text>
<text x="536.1" y="409.6" font-size="12.7" text-anchor="middle">transient</text>
<line x1="517.2" y1="432" x2="551" y2="432" stroke="#000" stroke-width="1.3"/>
<text x="536.5" y="428.9" font-size="12.7" text-anchor="middle">ns</text>
<text x="469" y="479.5" font-size="12.7" text-anchor="middle" transform="rotate(-90 469 479.5)" textLength="112.4" lengthAdjust="spacingAndGlyphs">Volume change (%)</text>
<rect x="623.3" y="498" width="22.3" height="36.8" fill="#7a7a7a"/>
<rect x="657" y="512.9" width="22.2" height="21.9" fill="#29abe2"/>
<circle cx="631.6" cy="446.4" r="1.55" fill="#000"/>
<circle cx="636.5" cy="447.8" r="1.55" fill="#000"/>
<circle cx="634.2" cy="459.2" r="1.55" fill="#000"/>
<circle cx="634.2" cy="468" r="1.55" fill="#000"/>
<circle cx="632.4" cy="485.4" r="1.55" fill="#000"/>
<circle cx="636.5" cy="483.1" r="1.55" fill="#000"/>
<circle cx="627.7" cy="501.5" r="1.55" fill="#000"/>
<circle cx="632.4" cy="502.4" r="1.55" fill="#000"/>
<circle cx="636.5" cy="504.2" r="1.55" fill="#000"/>
<circle cx="641.2" cy="501.5" r="1.55" fill="#000"/>
<circle cx="624.6" cy="513.8" r="1.55" fill="#000"/>
<circle cx="628.4" cy="515.9" r="1.55" fill="#000"/>
<circle cx="632.4" cy="515.9" r="1.55" fill="#000"/>
<circle cx="636.5" cy="515.9" r="1.55" fill="#000"/>
<circle cx="640.3" cy="514.7" r="1.55" fill="#000"/>
<circle cx="643.5" cy="512.4" r="1.55" fill="#000"/>
<circle cx="631.6" cy="520.8" r="1.55" fill="#000"/>
<circle cx="636.5" cy="524.3" r="1.55" fill="#000"/>
<circle cx="634.2" cy="532.2" r="1.55" fill="#000"/>
<circle cx="665.7" cy="497.2" r="1.55" fill="#000"/>
<circle cx="670.1" cy="496.3" r="1.55" fill="#000"/>
<circle cx="668" cy="504.2" r="1.55" fill="#000"/>
<circle cx="664" cy="512" r="1.55" fill="#000"/>
<circle cx="668.4" cy="513.8" r="1.55" fill="#000"/>
<circle cx="665.7" cy="516.4" r="1.55" fill="#000"/>
<circle cx="670.1" cy="518.2" r="1.55" fill="#000"/>
<circle cx="670.1" cy="529.6" r="1.55" fill="#000"/>
<circle cx="665.7" cy="531" r="1.55" fill="#000"/>
<line x1="634.2" y1="492.4" x2="634.2" y2="503.5" stroke="#000" stroke-width="1.3"/>
<line x1="631" y1="492.4" x2="637.4" y2="492.4" stroke="#000" stroke-width="1.3"/>
<line x1="631" y1="503.5" x2="637.4" y2="503.5" stroke="#000" stroke-width="1.3"/>
<line x1="668.4" y1="508.2" x2="668.4" y2="517.3" stroke="#000" stroke-width="1.3"/>
<line x1="665.2" y1="508.2" x2="671.6" y2="508.2" stroke="#000" stroke-width="1.3"/>
<line x1="665.2" y1="517.3" x2="671.6" y2="517.3" stroke="#000" stroke-width="1.3"/>
<path d="M616.7 433.3V534.8" fill="none" stroke="#000" stroke-width="1.4"/>
<line x1="616.7" y1="534.8" x2="683.5" y2="534.8" stroke="#000" stroke-width="1.4"/>
<line x1="613.7" y1="433.3" x2="616.7" y2="433.3" stroke="#000" stroke-width="1.4"/>
<text x="612.4" y="437.8" font-size="12.7" text-anchor="end">200</text>
<line x1="613.7" y1="458.67" x2="616.7" y2="458.67" stroke="#000" stroke-width="1.4"/>
<text x="612.4" y="463.17" font-size="12.7" text-anchor="end">150</text>
<line x1="613.7" y1="484.05" x2="616.7" y2="484.05" stroke="#000" stroke-width="1.4"/>
<text x="612.4" y="488.55" font-size="12.7" text-anchor="end">100</text>
<line x1="613.7" y1="509.42" x2="616.7" y2="509.42" stroke="#000" stroke-width="1.4"/>
<text x="612.4" y="513.92" font-size="12.7" text-anchor="end">50</text>
<line x1="613.7" y1="534.8" x2="616.7" y2="534.8" stroke="#000" stroke-width="1.4"/>
<text x="612.4" y="539.3" font-size="12.7" text-anchor="end">0</text>
<line x1="634.2" y1="534.8" x2="634.2" y2="538.1" stroke="#000" stroke-width="1.4"/>
<text x="642.1" y="546.6" font-size="12.7" text-anchor="end" transform="rotate(-45 642.1 546.6)">WT</text>
<line x1="668.2" y1="534.8" x2="668.2" y2="538.1" stroke="#000" stroke-width="1.4"/>
<text x="674.9" y="547.1" font-size="12.7" text-anchor="end" transform="rotate(-45 674.9 547.1)">KO</text>
<text x="652" y="409.6" font-size="12.7" text-anchor="middle">sustained</text>
<line x1="634.2" y1="433.3" x2="668.7" y2="433.3" stroke="#000" stroke-width="1.3"/>
<text x="652.6" y="433.2" font-size="11" text-anchor="middle">*</text>
<text x="585" y="476.5" font-size="12.7" text-anchor="middle" transform="rotate(-90 585 476.5)" textLength="111.5" lengthAdjust="spacingAndGlyphs">Volume change (%)</text>
<text x="63.5" y="596.1" font-size="12.7">Cdc42</text>
<rect x="141.1" y="608.8" width="5.6" height="117.1" fill="#dcdcdc"/>
<line x1="142.1" y1="686.8" x2="278.6" y2="686.8" stroke="#222" stroke-width="1.1" stroke-dasharray="1.3,2.4"/>
<path d="M102.6 608.8V725.9H278.6" fill="none" stroke="#000" stroke-width="1.4"/>
<line x1="99.8" y1="608.8" x2="102.6" y2="608.8" stroke="#000" stroke-width="1.4"/>
<text x="98.4" y="613.3" font-size="12.7" text-anchor="end">0.10</text>
<line x1="99.8" y1="624.4" x2="102.6" y2="624.4" stroke="#000" stroke-width="1.4"/>
<text x="98.4" y="628.9" font-size="12.7" text-anchor="end">0.08</text>
<line x1="99.8" y1="640" x2="102.6" y2="640" stroke="#000" stroke-width="1.4"/>
<text x="98.4" y="644.5" font-size="12.7" text-anchor="end">0.06</text>
<line x1="99.8" y1="655.6" x2="102.6" y2="655.6" stroke="#000" stroke-width="1.4"/>
<text x="98.4" y="660.1" font-size="12.7" text-anchor="end">0.04</text>
<line x1="99.8" y1="671.2" x2="102.6" y2="671.2" stroke="#000" stroke-width="1.4"/>
<text x="98.4" y="675.7" font-size="12.7" text-anchor="end">0.02</text>
<line x1="99.8" y1="686.8" x2="102.6" y2="686.8" stroke="#000" stroke-width="1.4"/>
<text x="98.4" y="691.3" font-size="12.7" text-anchor="end">0.00</text>
<line x1="99.8" y1="702.4" x2="102.6" y2="702.4" stroke="#000" stroke-width="1.4"/>
<text x="98.4" y="706.9" font-size="12.7" text-anchor="end">-0.02</text>
<line x1="99.8" y1="718" x2="102.6" y2="718" stroke="#000" stroke-width="1.4"/>
<text x="98.4" y="722.5" font-size="12.7" text-anchor="end">-0.04</text>
<line x1="113.6" y1="725.9" x2="113.6" y2="728.9" stroke="#000" stroke-width="1.4"/>
<text x="115.5" y="738.6" font-size="12.7" text-anchor="middle">-5</text>
<line x1="141.1" y1="725.9" x2="141.1" y2="728.9" stroke="#000" stroke-width="1.4"/>
<text x="141.4" y="738.6" font-size="12.7" text-anchor="middle">0</text>
<line x1="168.6" y1="725.9" x2="168.6" y2="728.9" stroke="#000" stroke-width="1.4"/>
<text x="168.9" y="738.6" font-size="12.7" text-anchor="middle">5</text>
<line x1="196.1" y1="725.9" x2="196.1" y2="728.9" stroke="#000" stroke-width="1.4"/>
<text x="196.4" y="738.6" font-size="12.7" text-anchor="middle">10</text>
<line x1="223.6" y1="725.9" x2="223.6" y2="728.9" stroke="#000" stroke-width="1.4"/>
<text x="223.9" y="738.6" font-size="12.7" text-anchor="middle">15</text>
<line x1="251.1" y1="725.9" x2="251.1" y2="728.9" stroke="#000" stroke-width="1.4"/>
<text x="251.4" y="738.6" font-size="12.7" text-anchor="middle">20</text>
<line x1="278.6" y1="725.9" x2="278.6" y2="728.9" stroke="#000" stroke-width="1.4"/>
<text x="278.9" y="738.6" font-size="12.7" text-anchor="middle">25</text>
<line x1="127.35" y1="725.9" x2="127.35" y2="728.1" stroke="#000" stroke-width="1.2"/>
<line x1="154.85" y1="725.9" x2="154.85" y2="728.1" stroke="#000" stroke-width="1.2"/>
<line x1="182.35" y1="725.9" x2="182.35" y2="728.1" stroke="#000" stroke-width="1.2"/>
<line x1="209.85" y1="725.9" x2="209.85" y2="728.1" stroke="#000" stroke-width="1.2"/>
<line x1="237.35" y1="725.9" x2="237.35" y2="728.1" stroke="#000" stroke-width="1.2"/>
<line x1="264.85" y1="725.9" x2="264.85" y2="728.1" stroke="#000" stroke-width="1.2"/>
<text x="202" y="749.7" font-size="12.7" text-anchor="middle">Time(min)</text>
<text x="69.5" y="654.3" font-size="12.7" text-anchor="middle" transform="rotate(-90 69.5 654.3)" textLength="87" lengthAdjust="spacingAndGlyphs">Binding fraction</text>
<polygon points="63.4,703.6 68.34,701 68.34,706.2" fill="none" stroke="#231f20" stroke-width="0.85"/>
<polyline points="107.7,693.1 112.4,701.3 118.3,692.6 123.6,661.6 129.9,683.8 140,697.8 141,694.52 141.52,686.2 142.04,669.21 142.57,655.54 143.09,650.26 143.61,638.64 144.13,633.12 144.65,636.02 145.17,636.13 145.7,630.76 146.22,623.71 146.74,625.33 147.26,621.16 147.78,620.08 148.3,625.93 148.83,629.32 149.35,631.74 149.87,633.92 150.39,641.93 150.91,642.97 151.43,639.02 151.96,639.8 152.48,645.62 153,647.47 154.5,644 161.5,648.7 168,661.6 173.7,657.5 179.7,663 184.9,665.6 190,672.8 195.6,667.7 201.3,661.3 206.7,680.5 212.3,666.4 218.2,656.9 223.8,663.8 229.7,680 235.4,672.8 240.5,670.8 246.4,672.8 252,678 257.7,680.5 262.8,680 268,657.4 273.1,658.7 279,662.6" fill="none" stroke="#ec3326" stroke-width="1.35" stroke-linejoin="round"/>
<line x1="107.7" y1="686.6" x2="107.7" y2="699.6" stroke="#ec3326" stroke-width="1.15"/>
<line x1="112.4" y1="693.3" x2="112.4" y2="709.3" stroke="#ec3326" stroke-width="1.15"/>
<line x1="118.3" y1="687.6" x2="118.3" y2="697.6" stroke="#ec3326" stroke-width="1.15"/>
<line x1="123.6" y1="653.1" x2="123.6" y2="670.1" stroke="#ec3326" stroke-width="1.15"/>
<line x1="129.9" y1="676.8" x2="129.9" y2="690.8" stroke="#ec3326" stroke-width="1.15"/>
<line x1="140" y1="690.8" x2="140" y2="704.8" stroke="#ec3326" stroke-width="1.15"/>
<line x1="141" y1="683.61" x2="141" y2="705.43" stroke="#ec3326" stroke-width="1.15"/>
<line x1="141.52" y1="676.01" x2="141.52" y2="696.38" stroke="#ec3326" stroke-width="1.15"/>
<line x1="142.04" y1="658.09" x2="142.04" y2="680.33" stroke="#ec3326" stroke-width="1.15"/>
<line x1="142.57" y1="645" x2="142.57" y2="666.08" stroke="#ec3326" stroke-width="1.15"/>
<line x1="143.09" y1="637.55" x2="143.09" y2="662.96" stroke="#ec3326" stroke-width="1.15"/>
<line x1="143.61" y1="629.7" x2="143.61" y2="647.57" stroke="#ec3326" stroke-width="1.15"/>
<line x1="144.13" y1="620.29" x2="144.13" y2="645.96" stroke="#ec3326" stroke-width="1.15"/>
<line x1="144.65" y1="629.1" x2="144.65" y2="642.94" stroke="#ec3326" stroke-width="1.15"/>
<line x1="145.17" y1="622.1" x2="145.17" y2="650.15" stroke="#ec3326" stroke-width="1.15"/>
<line x1="145.7" y1="619.42" x2="145.7" y2="642.1" stroke="#ec3326" stroke-width="1.15"/>
<line x1="146.22" y1="616.99" x2="146.22" y2="630.42" stroke="#ec3326" stroke-width="1.15"/>
<line x1="146.74" y1="618.27" x2="146.74" y2="632.39" stroke="#ec3326" stroke-width="1.15"/>
<line x1="147.26" y1="612.7" x2="147.26" y2="629.63" stroke="#ec3326" stroke-width="1.15"/>
<line x1="147.78" y1="609.91" x2="147.78" y2="630.26" stroke="#ec3326" stroke-width="1.15"/>
<line x1="148.3" y1="612.84" x2="148.3" y2="639.01" stroke="#ec3326" stroke-width="1.15"/>
<line x1="148.83" y1="617.79" x2="148.83" y2="640.85" stroke="#ec3326" stroke-width="1.15"/>
<line x1="149.35" y1="620.04" x2="149.35" y2="643.44" stroke="#ec3326" stroke-width="1.15"/>
<line x1="149.87" y1="625.18" x2="149.87" y2="642.66" stroke="#ec3326" stroke-width="1.15"/>
<line x1="150.39" y1="627.67" x2="150.39" y2="656.2" stroke="#ec3326" stroke-width="1.15"/>
<line x1="150.91" y1="630.92" x2="150.91" y2="655.02" stroke="#ec3326" stroke-width="1.15"/>
<line x1="151.43" y1="630.65" x2="151.43" y2="647.39" stroke="#ec3326" stroke-width="1.15"/>
<line x1="151.96" y1="632.66" x2="151.96" y2="646.94" stroke="#ec3326" stroke-width="1.15"/>
<line x1="152.48" y1="635.94" x2="152.48" y2="655.3" stroke="#ec3326" stroke-width="1.15"/>
<line x1="153" y1="637.89" x2="153" y2="657.04" stroke="#ec3326" stroke-width="1.15"/>
<line x1="154.5" y1="631" x2="154.5" y2="657" stroke="#ec3326" stroke-width="1.15"/>
<line x1="161.5" y1="639.4" x2="161.5" y2="658" stroke="#ec3326" stroke-width="1.15"/>
<line x1="168" y1="652.3" x2="168" y2="670.9" stroke="#ec3326" stroke-width="1.15"/>
<line x1="173.7" y1="645.5" x2="173.7" y2="669.5" stroke="#ec3326" stroke-width="1.15"/>
<line x1="179.7" y1="651" x2="179.7" y2="675" stroke="#ec3326" stroke-width="1.15"/>
<line x1="184.9" y1="657.6" x2="184.9" y2="673.6" stroke="#ec3326" stroke-width="1.15"/>
<line x1="190" y1="658.8" x2="190" y2="686.8" stroke="#ec3326" stroke-width="1.15"/>
<line x1="195.6" y1="659.7" x2="195.6" y2="675.7" stroke="#ec3326" stroke-width="1.15"/>
<line x1="201.3" y1="648.5" x2="201.3" y2="674.1" stroke="#ec3326" stroke-width="1.15"/>
<line x1="206.7" y1="666.5" x2="206.7" y2="694.5" stroke="#ec3326" stroke-width="1.15"/>
<line x1="212.3" y1="658.4" x2="212.3" y2="674.4" stroke="#ec3326" stroke-width="1.15"/>
<line x1="218.2" y1="640.9" x2="218.2" y2="672.9" stroke="#ec3326" stroke-width="1.15"/>
<line x1="223.8" y1="655.8" x2="223.8" y2="671.8" stroke="#ec3326" stroke-width="1.15"/>
<line x1="229.7" y1="667.2" x2="229.7" y2="692.8" stroke="#ec3326" stroke-width="1.15"/>
<line x1="235.4" y1="664.8" x2="235.4" y2="680.8" stroke="#ec3326" stroke-width="1.15"/>
<line x1="240.5" y1="662.8" x2="240.5" y2="678.8" stroke="#ec3326" stroke-width="1.15"/>
<line x1="246.4" y1="664.8" x2="246.4" y2="680.8" stroke="#ec3326" stroke-width="1.15"/>
<line x1="252" y1="668" x2="252" y2="688" stroke="#ec3326" stroke-width="1.15"/>
<line x1="257.7" y1="670.5" x2="257.7" y2="690.5" stroke="#ec3326" stroke-width="1.15"/>
<line x1="262.8" y1="668" x2="262.8" y2="692" stroke="#ec3326" stroke-width="1.15"/>
<line x1="268" y1="644.4" x2="268" y2="670.4" stroke="#ec3326" stroke-width="1.15"/>
<line x1="273.1" y1="648.7" x2="273.1" y2="668.7" stroke="#ec3326" stroke-width="1.15"/>
<line x1="279" y1="652.6" x2="279" y2="672.6" stroke="#ec3326" stroke-width="1.15"/>
<polyline points="107.7,690.3 112.4,690.8 118.3,680.3 123.6,687.3 129.9,697.8 140,681.4 141,683.8 141.43,675.83 141.86,661.08 142.3,655.16 142.73,651.15 143.16,643.71 143.59,635.65 144.02,631.15 144.46,627.73 144.89,625.27 145.32,625.74 145.75,628.48 146.18,621.67 146.62,625.69 147.05,629.99 147.48,623.86 147.91,624.9 148.34,630.35 148.78,632.68 149.21,630.2 149.64,633.76 150.07,637.06 150.5,637.09 150.94,641.55 151.37,645.65 151.8,642.85 152.1,645.2 156.8,656.2 162.6,651.1 168,662.7 173.7,652 179.7,661.3 184.9,662.6 190,662 195.6,669 201.3,664.6 206.7,676.7 212.3,662.6 218.2,662.6 223.8,658.7 229.7,670.8 235.4,669.7 240.5,669 246.4,670.3 252,658.7 257.7,666.4 262.8,674.1 268,665.1 273.1,654.4 279,665.1" fill="none" stroke="#000" stroke-width="1.35" stroke-linejoin="round"/>
<line x1="107.7" y1="683.8" x2="107.7" y2="696.8" stroke="#000" stroke-width="1.15"/>
<line x1="112.4" y1="684.8" x2="112.4" y2="696.8" stroke="#000" stroke-width="1.15"/>
<line x1="118.3" y1="672.8" x2="118.3" y2="687.8" stroke="#000" stroke-width="1.15"/>
<line x1="123.6" y1="684.3" x2="123.6" y2="690.3" stroke="#000" stroke-width="1.15"/>
<line x1="129.9" y1="690.8" x2="129.9" y2="704.8" stroke="#000" stroke-width="1.15"/>
<line x1="140" y1="673.4" x2="140" y2="689.4" stroke="#000" stroke-width="1.15"/>
<line x1="141" y1="672.13" x2="141" y2="695.46" stroke="#000" stroke-width="1.15"/>
<line x1="141.43" y1="668.13" x2="141.43" y2="683.53" stroke="#000" stroke-width="1.15"/>
<line x1="141.86" y1="651.59" x2="141.86" y2="670.56" stroke="#000" stroke-width="1.15"/>
<line x1="142.3" y1="642.32" x2="142.3" y2="668" stroke="#000" stroke-width="1.15"/>
<line x1="142.73" y1="639.92" x2="142.73" y2="662.38" stroke="#000" stroke-width="1.15"/>
<line x1="143.16" y1="632.01" x2="143.16" y2="655.4" stroke="#000" stroke-width="1.15"/>
<line x1="143.59" y1="625.66" x2="143.59" y2="645.64" stroke="#000" stroke-width="1.15"/>
<line x1="144.02" y1="617.58" x2="144.02" y2="644.73" stroke="#000" stroke-width="1.15"/>
<line x1="144.46" y1="614.83" x2="144.46" y2="640.64" stroke="#000" stroke-width="1.15"/>
<line x1="144.89" y1="613.38" x2="144.89" y2="637.16" stroke="#000" stroke-width="1.15"/>
<line x1="145.32" y1="616.02" x2="145.32" y2="635.45" stroke="#000" stroke-width="1.15"/>
<line x1="145.75" y1="621.74" x2="145.75" y2="635.23" stroke="#000" stroke-width="1.15"/>
<line x1="146.18" y1="608.02" x2="146.18" y2="635.32" stroke="#000" stroke-width="1.15"/>
<line x1="146.62" y1="618.39" x2="146.62" y2="632.99" stroke="#000" stroke-width="1.15"/>
<line x1="147.05" y1="616.1" x2="147.05" y2="643.88" stroke="#000" stroke-width="1.15"/>
<line x1="147.48" y1="614" x2="147.48" y2="633.72" stroke="#000" stroke-width="1.15"/>
<line x1="147.91" y1="615.9" x2="147.91" y2="633.91" stroke="#000" stroke-width="1.15"/>
<line x1="148.34" y1="622.49" x2="148.34" y2="638.21" stroke="#000" stroke-width="1.15"/>
<line x1="148.78" y1="625.68" x2="148.78" y2="639.67" stroke="#000" stroke-width="1.15"/>
<line x1="149.21" y1="617.32" x2="149.21" y2="643.08" stroke="#000" stroke-width="1.15"/>
<line x1="149.64" y1="623.94" x2="149.64" y2="643.59" stroke="#000" stroke-width="1.15"/>
<line x1="150.07" y1="626.78" x2="150.07" y2="647.33" stroke="#000" stroke-width="1.15"/>
<line x1="150.5" y1="630.26" x2="150.5" y2="643.93" stroke="#000" stroke-width="1.15"/>
<line x1="150.94" y1="627.51" x2="150.94" y2="655.6" stroke="#000" stroke-width="1.15"/>
<line x1="151.37" y1="633.94" x2="151.37" y2="657.36" stroke="#000" stroke-width="1.15"/>
<line x1="151.8" y1="633.45" x2="151.8" y2="652.25" stroke="#000" stroke-width="1.15"/>
<line x1="152.1" y1="634.7" x2="152.1" y2="655.7" stroke="#000" stroke-width="1.15"/>
<line x1="156.8" y1="647.4" x2="156.8" y2="665" stroke="#000" stroke-width="1.15"/>
<line x1="162.6" y1="641.8" x2="162.6" y2="660.4" stroke="#000" stroke-width="1.15"/>
<line x1="168" y1="655.1" x2="168" y2="670.3" stroke="#000" stroke-width="1.15"/>
<line x1="173.7" y1="641.5" x2="173.7" y2="662.5" stroke="#000" stroke-width="1.15"/>
<line x1="179.7" y1="653.3" x2="179.7" y2="669.3" stroke="#000" stroke-width="1.15"/>
<line x1="184.9" y1="654.6" x2="184.9" y2="670.6" stroke="#000" stroke-width="1.15"/>
<line x1="190" y1="654" x2="190" y2="670" stroke="#000" stroke-width="1.15"/>
<line x1="195.6" y1="662" x2="195.6" y2="676" stroke="#000" stroke-width="1.15"/>
<line x1="201.3" y1="656.6" x2="201.3" y2="672.6" stroke="#000" stroke-width="1.15"/>
<line x1="206.7" y1="666.7" x2="206.7" y2="686.7" stroke="#000" stroke-width="1.15"/>
<line x1="212.3" y1="654.6" x2="212.3" y2="670.6" stroke="#000" stroke-width="1.15"/>
<line x1="218.2" y1="653.6" x2="218.2" y2="671.6" stroke="#000" stroke-width="1.15"/>
<line x1="223.8" y1="650.4" x2="223.8" y2="667" stroke="#000" stroke-width="1.15"/>
<line x1="229.7" y1="662.8" x2="229.7" y2="678.8" stroke="#000" stroke-width="1.15"/>
<line x1="235.4" y1="663.7" x2="235.4" y2="675.7" stroke="#000" stroke-width="1.15"/>
<line x1="240.5" y1="663" x2="240.5" y2="675" stroke="#000" stroke-width="1.15"/>
<line x1="246.4" y1="664.3" x2="246.4" y2="676.3" stroke="#000" stroke-width="1.15"/>
<line x1="252" y1="648.7" x2="252" y2="668.7" stroke="#000" stroke-width="1.15"/>
<line x1="257.7" y1="658.4" x2="257.7" y2="674.4" stroke="#000" stroke-width="1.15"/>
<line x1="262.8" y1="661.3" x2="262.8" y2="686.9" stroke="#000" stroke-width="1.15"/>
<line x1="268" y1="657.1" x2="268" y2="673.1" stroke="#000" stroke-width="1.15"/>
<line x1="273.1" y1="643.4" x2="273.1" y2="665.4" stroke="#000" stroke-width="1.15"/>
<line x1="279" y1="656.1" x2="279" y2="674.1" stroke="#000" stroke-width="1.15"/>
<line x1="238" y1="596.6" x2="246.7" y2="596.6" stroke="#000" stroke-width="1.4"/>
<text x="251.1" y="598.3" font-size="12.7" transform="translate(0 0)">WT</text>
<line x1="238" y1="606" x2="246.7" y2="606" stroke="#ec3326" stroke-width="1.4"/>
<text x="252.1" y="607.8" font-size="12.7">KO</text>
<rect x="342.8" y="691.4" width="23.5" height="21.9" fill="#7a7a7a"/>
<rect x="377.7" y="690.7" width="23.9" height="22.6" fill="#ec3326"/>
<circle cx="354.5" cy="650.6" r="1.55" fill="#000"/>
<circle cx="354.5" cy="663.5" r="1.55" fill="#000"/>
<circle cx="356.8" cy="668.3" r="1.55" fill="#000"/>
<circle cx="352.3" cy="671.7" r="1.55" fill="#000"/>
<circle cx="356.8" cy="677.4" r="1.55" fill="#000"/>
<circle cx="349.2" cy="684.4" r="1.55" fill="#000"/>
<circle cx="354.1" cy="685.4" r="1.55" fill="#000"/>
<circle cx="358.7" cy="685" r="1.55" fill="#000"/>
<circle cx="349.2" cy="690.1" r="1.55" fill="#000"/>
<circle cx="354.1" cy="690.7" r="1.55" fill="#000"/>
<circle cx="358.7" cy="691.1" r="1.55" fill="#000"/>
<circle cx="351.7" cy="697.7" r="1.55" fill="#000"/>
<circle cx="354.9" cy="700.5" r="1.55" fill="#000"/>
<circle cx="359.3" cy="701.5" r="1.55" fill="#000"/>
<circle cx="350.4" cy="705.3" r="1.55" fill="#000"/>
<circle cx="354.5" cy="705.9" r="1.55" fill="#000"/>
<circle cx="349.8" cy="710" r="1.55" fill="#000"/>
<circle cx="352.3" cy="711.9" r="1.55" fill="#000"/>
<circle cx="354.5" cy="715.7" r="1.55" fill="#000"/>
<circle cx="356.4" cy="715.4" r="1.55" fill="#000"/>
<circle cx="354.5" cy="721" r="1.55" fill="#000"/>
<circle cx="387.2" cy="670.6" r="1.55" fill="#000"/>
<circle cx="392.1" cy="674.9" r="1.55" fill="#000"/>
<circle cx="387.2" cy="686.3" r="1.55" fill="#000"/>
<circle cx="392.1" cy="686.3" r="1.55" fill="#000"/>
<circle cx="394" cy="694.5" r="1.55" fill="#000"/>
<circle cx="384.9" cy="698.3" r="1.55" fill="#000"/>
<circle cx="389.1" cy="699.6" r="1.55" fill="#000"/>
<circle cx="392.5" cy="699.6" r="1.55" fill="#000"/>
<circle cx="387.2" cy="704.7" r="1.55" fill="#000"/>
<line x1="354.5" y1="686.3" x2="354.5" y2="695.2" stroke="#000" stroke-width="1.3"/>
<line x1="351.3" y1="686.3" x2="357.7" y2="686.3" stroke="#000" stroke-width="1.3"/>
<line x1="351.3" y1="695.2" x2="357.7" y2="695.2" stroke="#000" stroke-width="1.3"/>
<line x1="389.6" y1="686.3" x2="389.6" y2="694.9" stroke="#000" stroke-width="1.3"/>
<line x1="386.4" y1="686.3" x2="392.8" y2="686.3" stroke="#000" stroke-width="1.3"/>
<line x1="386.4" y1="694.9" x2="392.8" y2="694.9" stroke="#000" stroke-width="1.3"/>
<path d="M335.2 625.2V730.92" fill="none" stroke="#000" stroke-width="1.4"/>
<line x1="335.2" y1="713.3" x2="407.3" y2="713.3" stroke="#000" stroke-width="1.4"/>
<line x1="332.2" y1="625.2" x2="335.2" y2="625.2" stroke="#000" stroke-width="1.4"/>
<text x="330.9" y="629.7" font-size="12.7" text-anchor="end">0.25</text>
<line x1="332.2" y1="642.82" x2="335.2" y2="642.82" stroke="#000" stroke-width="1.4"/>
<text x="330.9" y="647.32" font-size="12.7" text-anchor="end">0.20</text>
<line x1="332.2" y1="660.44" x2="335.2" y2="660.44" stroke="#000" stroke-width="1.4"/>
<text x="330.9" y="664.94" font-size="12.7" text-anchor="end">0.15</text>
<line x1="332.2" y1="678.06" x2="335.2" y2="678.06" stroke="#000" stroke-width="1.4"/>
<text x="330.9" y="682.56" font-size="12.7" text-anchor="end">0.10</text>
<line x1="332.2" y1="695.68" x2="335.2" y2="695.68" stroke="#000" stroke-width="1.4"/>
<text x="330.9" y="700.18" font-size="12.7" text-anchor="end">0.05</text>
<line x1="332.2" y1="713.3" x2="335.2" y2="713.3" stroke="#000" stroke-width="1.4"/>
<text x="330.9" y="717.8" font-size="12.7" text-anchor="end">0.00</text>
<line x1="332.2" y1="730.92" x2="335.2" y2="730.92" stroke="#000" stroke-width="1.4"/>
<text x="330.9" y="735.42" font-size="12.7" text-anchor="end">-0.05</text>
<line x1="354.5" y1="713.3" x2="354.5" y2="716.6" stroke="#000" stroke-width="1.4"/>
<text x="365.3" y="735" font-size="12.7" text-anchor="end" transform="rotate(-45 365.3 735)">WT</text>
<line x1="389.6" y1="713.3" x2="389.6" y2="716.6" stroke="#000" stroke-width="1.4"/>
<text x="398.6" y="735.8" font-size="12.7" text-anchor="end" transform="rotate(-45 398.6 735.8)">KO</text>
<text x="371" y="599.9" font-size="12.7" text-anchor="middle">transient</text>
<line x1="354.5" y1="621.2" x2="388.7" y2="621.2" stroke="#000" stroke-width="1.3"/>
<text x="374.2" y="616.4" font-size="12.7" text-anchor="middle">ns</text>
<text x="305" y="666.7" font-size="12.7" text-anchor="middle" transform="rotate(-90 305 666.7)" textLength="86.7" lengthAdjust="spacingAndGlyphs">Binding fraction</text>
<polygon points="299.4,717.2 304.34,714.6 304.34,719.8" fill="none" stroke="#231f20" stroke-width="0.85"/>
<rect x="462.3" y="677.4" width="23.5" height="18.4" fill="#7a7a7a"/>
<rect x="497.2" y="679.7" width="23.3" height="16.1" fill="#ec3326"/>
<circle cx="473.6" cy="647.4" r="1.55" fill="#000"/>
<circle cx="466.8" cy="657.4" r="1.55" fill="#000"/>
<circle cx="471.2" cy="658.8" r="1.55" fill="#000"/>
<circle cx="481.2" cy="657.8" r="1.55" fill="#000"/>
<circle cx="469.3" cy="661.2" r="1.55" fill="#000"/>
<circle cx="476.3" cy="660.7" r="1.55" fill="#000"/>
<circle cx="473.6" cy="665.8" r="1.55" fill="#000"/>
<circle cx="478.2" cy="665.4" r="1.55" fill="#000"/>
<circle cx="475" cy="674.9" r="1.55" fill="#000"/>
<circle cx="471.7" cy="679.7" r="1.55" fill="#000"/>
<circle cx="475.9" cy="680.6" r="1.55" fill="#000"/>
<circle cx="468.7" cy="688.2" r="1.55" fill="#000"/>
<circle cx="473.6" cy="686.9" r="1.55" fill="#000"/>
<circle cx="478.2" cy="688.8" r="1.55" fill="#000"/>
<circle cx="468.7" cy="692" r="1.55" fill="#000"/>
<circle cx="476.9" cy="692" r="1.55" fill="#000"/>
<circle cx="481.2" cy="692" r="1.55" fill="#000"/>
<circle cx="469.8" cy="697.7" r="1.55" fill="#000"/>
<circle cx="474" cy="698.7" r="1.55" fill="#000"/>
<circle cx="478.2" cy="697.7" r="1.55" fill="#000"/>
<circle cx="473.6" cy="708.5" r="1.55" fill="#000"/>
<circle cx="508.6" cy="649.3" r="1.55" fill="#000"/>
<circle cx="508.6" cy="658.8" r="1.55" fill="#000"/>
<circle cx="504.4" cy="674" r="1.55" fill="#000"/>
<circle cx="513.5" cy="673" r="1.55" fill="#000"/>
<circle cx="507.8" cy="681.6" r="1.55" fill="#000"/>
<circle cx="505.9" cy="684.4" r="1.55" fill="#000"/>
<circle cx="510.5" cy="684.4" r="1.55" fill="#000"/>
<circle cx="508.6" cy="692" r="1.55" fill="#000"/>
<circle cx="508.6" cy="724.8" r="1.55" fill="#000"/>
<line x1="473.6" y1="673.6" x2="473.6" y2="681.2" stroke="#000" stroke-width="1.3"/>
<line x1="470.4" y1="673.6" x2="476.8" y2="673.6" stroke="#000" stroke-width="1.3"/>
<line x1="470.4" y1="681.2" x2="476.8" y2="681.2" stroke="#000" stroke-width="1.3"/>
<line x1="508.6" y1="672.5" x2="508.6" y2="686.9" stroke="#000" stroke-width="1.3"/>
<line x1="505.4" y1="672.5" x2="511.8" y2="672.5" stroke="#000" stroke-width="1.3"/>
<line x1="505.4" y1="686.9" x2="511.8" y2="686.9" stroke="#000" stroke-width="1.3"/>
<path d="M456 626.2V730.6" fill="none" stroke="#000" stroke-width="1.4"/>
<line x1="456" y1="695.8" x2="526.2" y2="695.8" stroke="#000" stroke-width="1.4"/>
<line x1="453" y1="626.2" x2="456" y2="626.2" stroke="#000" stroke-width="1.4"/>
<text x="451.7" y="630.7" font-size="12.7" text-anchor="end">0.10</text>
<line x1="453" y1="661" x2="456" y2="661" stroke="#000" stroke-width="1.4"/>
<text x="451.7" y="665.5" font-size="12.7" text-anchor="end">0.05</text>
<line x1="453" y1="695.8" x2="456" y2="695.8" stroke="#000" stroke-width="1.4"/>
<text x="451.7" y="700.3" font-size="12.7" text-anchor="end">0.00</text>
<line x1="453" y1="730.6" x2="456" y2="730.6" stroke="#000" stroke-width="1.4"/>
<text x="451.7" y="735.1" font-size="12.7" text-anchor="end">-0.05</text>
<line x1="473.6" y1="695.8" x2="473.6" y2="699.1" stroke="#000" stroke-width="1.4"/>
<text x="483.3" y="735.1" font-size="12.7" text-anchor="end" transform="rotate(-45 483.3 735.1)">WT</text>
<line x1="508.6" y1="695.8" x2="508.6" y2="699.1" stroke="#000" stroke-width="1.4"/>
<text x="516.4" y="735.7" font-size="12.7" text-anchor="end" transform="rotate(-45 516.4 735.7)">KO</text>
<text x="491" y="598.6" font-size="12.7" text-anchor="middle">sustained</text>
<line x1="474" y1="621.2" x2="508.2" y2="621.2" stroke="#000" stroke-width="1.3"/>
<text x="493" y="616.4" font-size="12.7" text-anchor="middle">ns</text>
<text x="424.5" y="667.8" font-size="12.7" text-anchor="middle" transform="rotate(-90 424.5 667.8)" textLength="86.4" lengthAdjust="spacingAndGlyphs">Binding fraction</text>
<polygon points="418.9,717.6 423.84,715 423.84,720.2" fill="none" stroke="#231f20" stroke-width="0.85"/>
</svg></body></html>
